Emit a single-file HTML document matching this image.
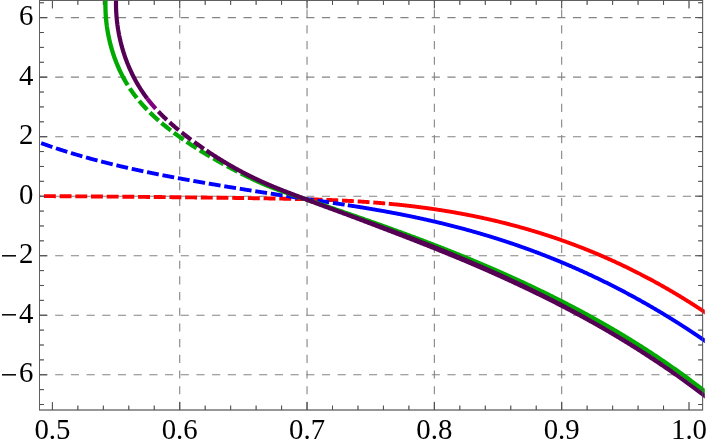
<!DOCTYPE html>
<html><head><meta charset="utf-8"><title>plot</title>
<style>
html,body{margin:0;padding:0;background:#fff;}
body{width:706px;height:447px;overflow:hidden;font-family:"Liberation Serif",serif;}
svg{display:block;}
</style></head><body>
<svg width="706" height="447" viewBox="0 0 706 447">
<rect width="706" height="447" fill="#ffffff"/>
<g stroke="#848484" stroke-width="1.1" stroke-dasharray="8.15 7.54" fill="none"><line x1="179.72" y1="410.0" x2="179.72" y2="0.5" /><line x1="307.04" y1="410.0" x2="307.04" y2="0.5" /><line x1="434.36" y1="410.0" x2="434.36" y2="0.5" /><line x1="561.68" y1="410.0" x2="561.68" y2="0.5" /><line x1="39.5" y1="374.76" x2="702.6" y2="374.76" /><line x1="39.5" y1="315.24" x2="702.6" y2="315.24" /><line x1="39.5" y1="255.72" x2="702.6" y2="255.72" /><line x1="39.5" y1="196.20" x2="702.6" y2="196.20" /><line x1="39.5" y1="136.68" x2="702.6" y2="136.68" /><line x1="39.5" y1="77.16" x2="702.6" y2="77.16" /><line x1="39.5" y1="17.64" x2="702.6" y2="17.64" /></g>
<rect x="39.5" y="0.5" width="663.1" height="409.5" fill="none" stroke="#606060" stroke-width="1"/>
<g stroke="#4e4e4e" stroke-width="1" fill="none"><line x1="52.40" y1="410.0" x2="52.40" y2="402.1"/><line x1="52.40" y1="0.5" x2="52.40" y2="8.4"/><line x1="77.86" y1="410.0" x2="77.86" y2="405.6"/><line x1="77.86" y1="0.5" x2="77.86" y2="4.9"/><line x1="103.33" y1="410.0" x2="103.33" y2="405.6"/><line x1="103.33" y1="0.5" x2="103.33" y2="4.9"/><line x1="128.79" y1="410.0" x2="128.79" y2="405.6"/><line x1="128.79" y1="0.5" x2="128.79" y2="4.9"/><line x1="154.26" y1="410.0" x2="154.26" y2="405.6"/><line x1="154.26" y1="0.5" x2="154.26" y2="4.9"/><line x1="179.72" y1="410.0" x2="179.72" y2="402.1"/><line x1="179.72" y1="0.5" x2="179.72" y2="8.4"/><line x1="205.18" y1="410.0" x2="205.18" y2="405.6"/><line x1="205.18" y1="0.5" x2="205.18" y2="4.9"/><line x1="230.65" y1="410.0" x2="230.65" y2="405.6"/><line x1="230.65" y1="0.5" x2="230.65" y2="4.9"/><line x1="256.11" y1="410.0" x2="256.11" y2="405.6"/><line x1="256.11" y1="0.5" x2="256.11" y2="4.9"/><line x1="281.58" y1="410.0" x2="281.58" y2="405.6"/><line x1="281.58" y1="0.5" x2="281.58" y2="4.9"/><line x1="307.04" y1="410.0" x2="307.04" y2="402.1"/><line x1="307.04" y1="0.5" x2="307.04" y2="8.4"/><line x1="332.50" y1="410.0" x2="332.50" y2="405.6"/><line x1="332.50" y1="0.5" x2="332.50" y2="4.9"/><line x1="357.97" y1="410.0" x2="357.97" y2="405.6"/><line x1="357.97" y1="0.5" x2="357.97" y2="4.9"/><line x1="383.43" y1="410.0" x2="383.43" y2="405.6"/><line x1="383.43" y1="0.5" x2="383.43" y2="4.9"/><line x1="408.90" y1="410.0" x2="408.90" y2="405.6"/><line x1="408.90" y1="0.5" x2="408.90" y2="4.9"/><line x1="434.36" y1="410.0" x2="434.36" y2="402.1"/><line x1="434.36" y1="0.5" x2="434.36" y2="8.4"/><line x1="459.82" y1="410.0" x2="459.82" y2="405.6"/><line x1="459.82" y1="0.5" x2="459.82" y2="4.9"/><line x1="485.29" y1="410.0" x2="485.29" y2="405.6"/><line x1="485.29" y1="0.5" x2="485.29" y2="4.9"/><line x1="510.75" y1="410.0" x2="510.75" y2="405.6"/><line x1="510.75" y1="0.5" x2="510.75" y2="4.9"/><line x1="536.22" y1="410.0" x2="536.22" y2="405.6"/><line x1="536.22" y1="0.5" x2="536.22" y2="4.9"/><line x1="561.68" y1="410.0" x2="561.68" y2="402.1"/><line x1="561.68" y1="0.5" x2="561.68" y2="8.4"/><line x1="587.14" y1="410.0" x2="587.14" y2="405.6"/><line x1="587.14" y1="0.5" x2="587.14" y2="4.9"/><line x1="612.61" y1="410.0" x2="612.61" y2="405.6"/><line x1="612.61" y1="0.5" x2="612.61" y2="4.9"/><line x1="638.07" y1="410.0" x2="638.07" y2="405.6"/><line x1="638.07" y1="0.5" x2="638.07" y2="4.9"/><line x1="663.54" y1="410.0" x2="663.54" y2="405.6"/><line x1="663.54" y1="0.5" x2="663.54" y2="4.9"/><line x1="689.00" y1="410.0" x2="689.00" y2="402.1"/><line x1="689.00" y1="0.5" x2="689.00" y2="8.4"/><line x1="39.5" y1="404.52" x2="43.9" y2="404.52"/><line x1="702.6" y1="404.52" x2="698.2" y2="404.52"/><line x1="39.5" y1="389.64" x2="43.9" y2="389.64"/><line x1="702.6" y1="389.64" x2="698.2" y2="389.64"/><line x1="39.5" y1="374.76" x2="47.0" y2="374.76"/><line x1="702.6" y1="374.76" x2="695.1" y2="374.76"/><line x1="39.5" y1="359.88" x2="43.9" y2="359.88"/><line x1="702.6" y1="359.88" x2="698.2" y2="359.88"/><line x1="39.5" y1="345.00" x2="43.9" y2="345.00"/><line x1="702.6" y1="345.00" x2="698.2" y2="345.00"/><line x1="39.5" y1="330.12" x2="43.9" y2="330.12"/><line x1="702.6" y1="330.12" x2="698.2" y2="330.12"/><line x1="39.5" y1="315.24" x2="47.0" y2="315.24"/><line x1="702.6" y1="315.24" x2="695.1" y2="315.24"/><line x1="39.5" y1="300.36" x2="43.9" y2="300.36"/><line x1="702.6" y1="300.36" x2="698.2" y2="300.36"/><line x1="39.5" y1="285.48" x2="43.9" y2="285.48"/><line x1="702.6" y1="285.48" x2="698.2" y2="285.48"/><line x1="39.5" y1="270.60" x2="43.9" y2="270.60"/><line x1="702.6" y1="270.60" x2="698.2" y2="270.60"/><line x1="39.5" y1="255.72" x2="47.0" y2="255.72"/><line x1="702.6" y1="255.72" x2="695.1" y2="255.72"/><line x1="39.5" y1="240.84" x2="43.9" y2="240.84"/><line x1="702.6" y1="240.84" x2="698.2" y2="240.84"/><line x1="39.5" y1="225.96" x2="43.9" y2="225.96"/><line x1="702.6" y1="225.96" x2="698.2" y2="225.96"/><line x1="39.5" y1="211.08" x2="43.9" y2="211.08"/><line x1="702.6" y1="211.08" x2="698.2" y2="211.08"/><line x1="39.5" y1="196.20" x2="47.0" y2="196.20"/><line x1="702.6" y1="196.20" x2="695.1" y2="196.20"/><line x1="39.5" y1="181.32" x2="43.9" y2="181.32"/><line x1="702.6" y1="181.32" x2="698.2" y2="181.32"/><line x1="39.5" y1="166.44" x2="43.9" y2="166.44"/><line x1="702.6" y1="166.44" x2="698.2" y2="166.44"/><line x1="39.5" y1="151.56" x2="43.9" y2="151.56"/><line x1="702.6" y1="151.56" x2="698.2" y2="151.56"/><line x1="39.5" y1="136.68" x2="47.0" y2="136.68"/><line x1="702.6" y1="136.68" x2="695.1" y2="136.68"/><line x1="39.5" y1="121.80" x2="43.9" y2="121.80"/><line x1="702.6" y1="121.80" x2="698.2" y2="121.80"/><line x1="39.5" y1="106.92" x2="43.9" y2="106.92"/><line x1="702.6" y1="106.92" x2="698.2" y2="106.92"/><line x1="39.5" y1="92.04" x2="43.9" y2="92.04"/><line x1="702.6" y1="92.04" x2="698.2" y2="92.04"/><line x1="39.5" y1="77.16" x2="47.0" y2="77.16"/><line x1="702.6" y1="77.16" x2="695.1" y2="77.16"/><line x1="39.5" y1="62.28" x2="43.9" y2="62.28"/><line x1="702.6" y1="62.28" x2="698.2" y2="62.28"/><line x1="39.5" y1="47.40" x2="43.9" y2="47.40"/><line x1="702.6" y1="47.40" x2="698.2" y2="47.40"/><line x1="39.5" y1="32.52" x2="43.9" y2="32.52"/><line x1="702.6" y1="32.52" x2="698.2" y2="32.52"/><line x1="39.5" y1="17.64" x2="47.0" y2="17.64"/><line x1="702.6" y1="17.64" x2="695.1" y2="17.64"/><line x1="39.5" y1="2.76" x2="43.9" y2="2.76"/><line x1="702.6" y1="2.76" x2="698.2" y2="2.76"/></g>
<defs><clipPath id="c"><rect x="39.5" y="-5" width="665.3" height="415.0"/></clipPath></defs>
<g clip-path="url(#c)" stroke-linecap="butt" stroke-linejoin="round">
<path d="M30.00,196.01 L30.49,196.01 L30.97,196.01 L31.46,196.02 L31.95,196.02 L32.44,196.02 L32.92,196.03 L33.41,196.03 L33.90,196.03 L34.39,196.04 L34.87,196.04 L35.36,196.04 L35.85,196.05 L36.34,196.05 L36.82,196.05 L37.31,196.06 L37.80,196.06 L38.29,196.06 L38.77,196.07 L39.26,196.07 L39.75,196.07 L40.24,196.08 L40.72,196.08 L41.21,196.08 L41.70,196.09 L42.19,196.09 L42.67,196.09 L43.16,196.10 L43.65,196.10 L44.14,196.10 L44.62,196.11 L45.11,196.11 L45.60,196.12 L46.09,196.12 L46.57,196.12 L47.06,196.13 L47.55,196.13 L48.04,196.13 L48.52,196.14 L49.01,196.14 L49.50,196.14 L49.99,196.15 L50.47,196.15 L50.96,196.15 L51.45,196.16 L51.94,196.16 L52.42,196.16 L52.91,196.17 L53.40,196.17 L53.89,196.17 L54.37,196.18 L54.86,196.18 L55.35,196.18 L55.84,196.19 L56.32,196.19 L56.81,196.20 L57.30,196.20 L57.79,196.20 L58.27,196.21 L58.76,196.21 L59.25,196.21 L59.74,196.22 L60.22,196.22 L60.71,196.22 L61.20,196.23 L61.69,196.23 L62.17,196.23 L62.66,196.24 L63.15,196.24 L63.64,196.24 L64.12,196.25 L64.61,196.25 L65.10,196.26 L65.59,196.26 L66.07,196.26 L66.56,196.27 L67.05,196.27 L67.54,196.27 L68.02,196.28 L68.51,196.28 L69.00,196.28 L69.49,196.29 L69.97,196.29 L70.46,196.29 L70.95,196.30 L71.44,196.30 L71.92,196.31 L72.41,196.31 L72.90,196.31 L73.39,196.32 L73.87,196.32 L74.36,196.32 L74.85,196.33 L75.34,196.33 L75.82,196.33 L76.31,196.34 L76.80,196.34 L77.29,196.35 L77.77,196.35 L78.26,196.35 L78.75,196.36 L79.24,196.36 L79.72,196.36 L80.21,196.37 L80.70,196.37 L81.19,196.38 L81.67,196.38 L82.16,196.38 L82.65,196.39 L83.14,196.39 L83.62,196.39 L84.11,196.40 L84.60,196.40 L85.09,196.41 L85.57,196.41 L86.06,196.41 L86.55,196.42 L87.04,196.42 L87.52,196.42 L88.01,196.43 L88.50,196.43 L88.99,196.44 L89.47,196.44 L89.96,196.44 L90.45,196.45 L90.94,196.45 L91.42,196.45 L91.91,196.46 L92.40,196.46 L92.89,196.47 L93.37,196.47 L93.86,196.47 L94.35,196.48 L94.84,196.48 L95.32,196.49 L95.81,196.49 L96.30,196.49 L96.79,196.50 L97.27,196.50 L97.76,196.50 L98.25,196.51 L98.74,196.51 L99.22,196.52 L99.71,196.52 L100.20,196.52 L100.69,196.53 L101.17,196.53 L101.66,196.54 L102.15,196.54 L102.64,196.54 L103.12,196.55 L103.61,196.55 L104.10,196.56 L104.59,196.56 L105.07,196.56 L105.56,196.57 L106.05,196.57 L106.54,196.58 L107.02,196.58 L107.51,196.58 L108.00,196.59 L108.49,196.59 L108.97,196.60 L109.46,196.60 L109.95,196.60 L110.44,196.61 L110.92,196.61 L111.41,196.62 L111.90,196.62 L112.39,196.62 L112.87,196.63 L113.36,196.63 L113.85,196.64 L114.34,196.64 L114.82,196.64 L115.31,196.65 L115.80,196.65 L116.29,196.66 L116.77,196.66 L117.26,196.67 L117.75,196.67 L118.24,196.67 L118.72,196.68 L119.21,196.68 L119.70,196.69 L120.19,196.69 L120.67,196.69 L121.16,196.70 L121.65,196.70 L122.14,196.71 L122.62,196.71 L123.11,196.72 L123.60,196.72 L124.09,196.72 L124.57,196.73 L125.06,196.73 L125.55,196.74 L126.04,196.74 L126.52,196.75 L127.01,196.75 L127.50,196.75 L127.99,196.76 L128.47,196.76 L128.96,196.77 L129.45,196.77 L129.94,196.78 L130.42,196.78 L130.91,196.78 L131.40,196.79 L131.89,196.79 L132.37,196.80 L132.86,196.80 L133.35,196.81 L133.84,196.81 L134.32,196.81 L134.81,196.82 L135.30,196.82 L135.79,196.83 L136.27,196.83 L136.76,196.84 L137.25,196.84 L137.74,196.85 L138.22,196.85 L138.71,196.85 L139.20,196.86 L139.69,196.86 L140.17,196.87 L140.66,196.87 L141.15,196.88 L141.64,196.88 L142.12,196.89 L142.61,196.89 L143.10,196.90 L143.59,196.90 L144.07,196.90 L144.56,196.91 L145.05,196.91 L145.54,196.92 L146.02,196.92 L146.51,196.93 L147.00,196.93 L147.49,196.94 L147.97,196.94 L148.46,196.95 L148.95,196.95 L149.44,196.96 L149.92,196.96 L150.41,196.96 L150.90,196.97 L151.39,196.97 L151.87,196.98 L152.36,196.98 L152.85,196.99 L153.34,196.99 L153.82,197.00 L154.31,197.00 L154.80,197.01 L155.29,197.01 L155.77,197.02 L156.26,197.02 L156.75,197.03 L157.24,197.03 L157.72,197.04 L158.21,197.04 L158.70,197.05 L159.19,197.05 L159.67,197.06 L160.16,197.06 L160.65,197.06 L161.14,197.07 L161.62,197.07 L162.11,197.08 L162.60,197.08 L163.09,197.09 L163.57,197.09 L164.06,197.10 L164.55,197.10 L165.04,197.11 L165.52,197.11 L166.01,197.12 L166.50,197.12 L166.98,197.13 L167.47,197.13 L167.96,197.14 L168.45,197.14 L168.93,197.15 L169.42,197.15 L169.91,197.16 L170.40,197.16 L170.88,197.17 L171.37,197.17 L171.86,197.18 L172.35,197.18 L172.83,197.19 L173.32,197.19 L173.81,197.20 L174.30,197.20 L174.78,197.21 L175.27,197.21 L175.76,197.22 L176.25,197.23 L176.73,197.23 L177.22,197.24 L177.71,197.24 L178.20,197.25 L178.68,197.25 L179.17,197.26 L179.66,197.26 L180.15,197.27 L180.63,197.27 L181.12,197.28 L181.61,197.28 L182.10,197.29 L182.58,197.29 L183.07,197.30 L183.56,197.30 L184.05,197.31 L184.53,197.31 L185.02,197.32 L185.51,197.33 L186.00,197.33 L186.48,197.34 L186.97,197.34 L187.46,197.35 L187.95,197.35 L188.43,197.36 L188.92,197.36 L189.41,197.37 L189.90,197.37 L190.38,197.38 L190.87,197.39 L191.36,197.39 L191.85,197.40 L192.33,197.40 L192.82,197.41 L193.31,197.41 L193.80,197.42 L194.28,197.42 L194.77,197.43 L195.26,197.44 L195.75,197.44 L196.23,197.45 L196.72,197.45 L197.21,197.46 L197.70,197.46 L198.18,197.47 L198.67,197.47 L199.16,197.48 L199.65,197.49 L200.13,197.49 L200.62,197.50 L201.11,197.50 L201.60,197.51 L202.08,197.51 L202.57,197.52 L203.06,197.53 L203.55,197.53 L204.03,197.54 L204.52,197.54 L205.01,197.55 L205.50,197.56 L205.98,197.56 L206.47,197.57 L206.96,197.57 L207.45,197.58 L207.93,197.58 L208.42,197.59 L208.91,197.60 L209.40,197.60 L209.88,197.61 L210.37,197.61 L210.86,197.62 L211.35,197.63 L211.83,197.63 L212.32,197.64 L212.81,197.64 L213.30,197.65 L213.78,197.66 L214.27,197.66 L214.76,197.67 L215.25,197.67 L215.73,197.68 L216.22,197.69 L216.71,197.69 L217.20,197.70 L217.68,197.71 L218.17,197.71 L218.66,197.72 L219.15,197.72 L219.63,197.73 L220.12,197.74 L220.61,197.74 L221.10,197.75 L221.58,197.75 L222.07,197.76 L222.56,197.77 L223.05,197.77 L223.53,197.78 L224.02,197.79 L224.51,197.79 L225.00,197.80 L225.48,197.80 L225.97,197.81 L226.46,197.82 L226.95,197.82 L227.43,197.83 L227.92,197.84 L228.41,197.84 L228.90,197.85 L229.38,197.86 L229.87,197.86 L230.36,197.87 L230.85,197.88 L231.33,197.88 L231.82,197.89 L232.31,197.90 L232.80,197.90 L233.28,197.91 L233.77,197.91 L234.26,197.92 L234.75,197.93 L235.23,197.93 L235.72,197.94 L236.21,197.95 L236.70,197.95 L237.18,197.96 L237.67,197.97 L238.16,197.97 L238.65,197.98 L239.13,197.99 L239.62,197.99 L240.11,198.00 L240.60,198.01 L241.08,198.01 L241.57,198.02 L242.06,198.03 L242.55,198.04 L243.03,198.04 L243.52,198.05 L244.01,198.06 L244.50,198.06 L244.98,198.07 L245.47,198.08 L245.96,198.08 L246.45,198.09 L246.93,198.10 L247.42,198.10 L247.91,198.11 L248.40,198.12 L248.88,198.13 L249.37,198.13 L249.86,198.14 L250.35,198.15 L250.83,198.15 L251.32,198.16 L251.81,198.17 L252.30,198.17 L252.78,198.18 L253.27,198.19 L253.76,198.20 L254.25,198.20 L254.73,198.21 L255.22,198.22 L255.71,198.22 L256.20,198.23 L256.68,198.24 L257.17,198.25 L257.66,198.25 L258.15,198.26 L258.63,198.27 L259.12,198.28 L259.61,198.28 L260.10,198.29 L260.58,198.30 L261.07,198.30 L261.56,198.31 L262.05,198.32 L262.53,198.33 L263.02,198.33 L263.51,198.34 L264.00,198.35 L264.48,198.36 L264.97,198.36 L265.46,198.37 L265.95,198.38 L266.43,198.39 L266.92,198.40 L267.41,198.40 L267.90,198.41 L268.38,198.42 L268.87,198.43 L269.36,198.43 L269.85,198.44 L270.33,198.45 L270.82,198.46 L271.31,198.47 L271.80,198.47 L272.28,198.48 L272.77,198.49 L273.26,198.50 L273.75,198.51 L274.23,198.52 L274.72,198.52 L275.21,198.53 L275.70,198.54 L276.18,198.55 L276.67,198.56 L277.16,198.57 L277.65,198.57 L278.13,198.58 L278.62,198.59 L279.11,198.60 L279.60,198.61 L280.08,198.62 L280.57,198.63 L281.06,198.64 L281.55,198.65 L282.03,198.65 L282.52,198.66 L283.01,198.67 L283.50,198.68 L283.98,198.69 L284.47,198.70 L284.96,198.71 L285.45,198.72 L285.93,198.73 L286.42,198.74 L286.91,198.75 L287.40,198.76 L287.88,198.77 L288.37,198.78 L288.86,198.79 L289.35,198.80 L289.83,198.81 L290.32,198.82 L290.81,198.83 L291.30,198.84 L291.78,198.85 L292.27,198.86 L292.76,198.87 L293.25,198.88 L293.73,198.89 L294.22,198.91 L294.71,198.92 L295.20,198.93 L295.68,198.94 L296.17,198.95 L296.66,198.96 L297.15,198.97 L297.63,198.99 L298.12,199.00 L298.61,199.01 L299.10,199.02 L299.58,199.03 L300.07,199.04 L300.56,199.06 L301.05,199.07 L301.53,199.08 L302.02,199.09 L302.51,199.11 L302.99,199.12 L303.48,199.13 L303.97,199.14 L304.46,199.16 L304.94,199.17 L305.43,199.18 L305.92,199.20 L306.41,199.21 L306.89,199.22 L307.38,199.24 L307.87,199.25 L308.36,199.26 L308.84,199.28 L309.33,199.29 L309.82,199.31 L310.31,199.32 L310.79,199.33 L311.28,199.35 L311.77,199.36 L312.26,199.38 L312.74,199.39 L313.23,199.41 L313.72,199.42 L314.21,199.44 L314.69,199.45 L315.18,199.47 L315.67,199.48 L316.16,199.50 L316.64,199.52 L317.13,199.53 L317.62,199.55 L318.11,199.56 L318.59,199.58 L319.08,199.60 L319.57,199.61 L320.06,199.63 L320.54,199.65 L321.03,199.66 L321.52,199.68 L322.01,199.70 L322.49,199.72 L322.98,199.73 L323.47,199.75 L323.96,199.77 L324.44,199.79 L324.93,199.81 L325.42,199.82 L325.91,199.84 L326.39,199.86 L326.88,199.88 L327.37,199.90 L327.86,199.92 L328.34,199.94 L328.83,199.96 L329.32,199.97 L329.81,199.99 L330.29,200.01 L330.78,200.03 L331.27,200.05 L331.76,200.07 L332.24,200.09 L332.73,200.12 L333.22,200.14 L333.71,200.16 L334.19,200.18 L334.68,200.20 L335.17,200.22 L335.66,200.24 L336.14,200.26 L336.63,200.28 L337.12,200.31 L337.61,200.33 L338.09,200.35 L338.58,200.37 L339.07,200.40 L339.56,200.42 L340.04,200.44 L340.53,200.47 L341.02,200.49 L341.51,200.51 L341.99,200.54 L342.48,200.56 L342.97,200.58 L343.46,200.61 L343.94,200.63 L344.43,200.66 L344.92,200.68 L345.41,200.71 L345.89,200.73 L346.38,200.76 L346.87,200.78 L347.36,200.81 L347.84,200.83 L348.33,200.86 L348.82,200.89 L349.31,200.91 L349.79,200.94 L350.28,200.97 L350.77,200.99 L351.26,201.02 L351.74,201.05 L352.23,201.07 L352.72,201.10 L353.21,201.13 L353.69,201.16 L354.18,201.19 L354.67,201.22 L355.16,201.24 L355.64,201.27 L356.13,201.30 L356.62,201.33 L357.11,201.36 L357.59,201.39 L358.08,201.42 L358.57,201.45 L359.06,201.48 L359.54,201.51 L360.03,201.54 L360.52,201.57 L361.01,201.60 L361.49,201.64 L361.98,201.67 L362.47,201.70 L362.96,201.73 L363.44,201.76 L363.93,201.80 L364.42,201.83 L364.91,201.86 L365.39,201.89 L365.88,201.93 L366.37,201.96 L366.86,202.00 L367.34,202.03 L367.83,202.06 L368.32,202.10 L368.81,202.13 L369.29,202.17 L369.78,202.20 L370.27,202.24 L370.76,202.27 L371.24,202.31 L371.73,202.35 L372.22,202.38 L372.71,202.42 L373.19,202.46 L373.68,202.49 L374.17,202.53 L374.66,202.57 L375.14,202.61 L375.63,202.64 L376.12,202.68 L376.61,202.72 L377.09,202.76 L377.58,202.80 L378.07,202.84 L378.56,202.88 L379.04,202.92 L379.53,202.96 L380.02,203.00 L380.51,203.04 L380.99,203.08 L381.48,203.12 L381.97,203.16 L382.46,203.20 L382.94,203.24 L383.43,203.28 L383.92,203.33 L384.41,203.37 L384.89,203.41 L385.38,203.45 L385.87,203.50 L386.36,203.54 L386.84,203.58 L387.33,203.63 L387.82,203.67" fill="none" stroke="#ff0000" stroke-width="3.9" stroke-dasharray="11.9 3.79" stroke-dashoffset="1.74"/>
<path d="M388.79,203.76 L389.28,203.81 L389.77,203.85 L390.26,203.90 L390.74,203.94 L391.23,203.99 L391.72,204.04 L392.21,204.08 L392.69,204.13 L393.18,204.18 L393.67,204.22 L394.16,204.27 L394.64,204.32 L395.13,204.37 L395.62,204.42 L396.11,204.46 L396.59,204.51 L397.08,204.56 L397.57,204.61 L398.06,204.66 L398.54,204.71 L399.03,204.76 L399.52,204.81 L400.01,204.87 L400.49,204.92 L400.98,204.97 L401.47,205.02 L401.96,205.07 L402.44,205.12 L402.93,205.18 L403.42,205.23 L403.91,205.28 L404.39,205.34 L404.88,205.39 L405.37,205.44 L405.86,205.50 L406.34,205.55 L406.83,205.61 L407.32,205.66 L407.81,205.72 L408.29,205.77 L408.78,205.83 L409.27,205.89 L409.76,205.94 L410.24,206.00 L410.73,206.06 L411.22,206.12 L411.71,206.17 L412.19,206.23 L412.68,206.29 L413.17,206.35 L413.66,206.41 L414.14,206.47 L414.63,206.53 L415.12,206.59 L415.61,206.65 L416.09,206.71 L416.58,206.77 L417.07,206.83 L417.56,206.89 L418.04,206.95 L418.53,207.01 L419.02,207.08 L419.51,207.14 L419.99,207.20 L420.48,207.26 L420.97,207.33 L421.46,207.39 L421.94,207.46 L422.43,207.52 L422.92,207.58 L423.41,207.65 L423.89,207.71 L424.38,207.78 L424.87,207.85 L425.36,207.91 L425.84,207.98 L426.33,208.04 L426.82,208.11 L427.31,208.18 L427.79,208.25 L428.28,208.31 L428.77,208.38 L429.26,208.45 L429.74,208.52 L430.23,208.59 L430.72,208.66 L431.21,208.73 L431.69,208.80 L432.18,208.87 L432.67,208.94 L433.16,209.01 L433.64,209.08 L434.13,209.15 L434.62,209.23 L435.11,209.30 L435.59,209.37 L436.08,209.44 L436.57,209.52 L437.06,209.59 L437.54,209.66 L438.03,209.74 L438.52,209.81 L439.01,209.89 L439.49,209.96 L439.98,210.04 L440.47,210.11 L440.95,210.19 L441.44,210.27 L441.93,210.34 L442.42,210.42 L442.90,210.50 L443.39,210.58 L443.88,210.65 L444.37,210.73 L444.85,210.81 L445.34,210.89 L445.83,210.97 L446.32,211.05 L446.80,211.13 L447.29,211.21 L447.78,211.29 L448.27,211.37 L448.75,211.45 L449.24,211.53 L449.73,211.62 L450.22,211.70 L450.70,211.78 L451.19,211.86 L451.68,211.95 L452.17,212.03 L452.65,212.12 L453.14,212.20 L453.63,212.28 L454.12,212.37 L454.60,212.45 L455.09,212.54 L455.58,212.63 L456.07,212.71 L456.55,212.80 L457.04,212.89 L457.53,212.97 L458.02,213.06 L458.50,213.15 L458.99,213.24 L459.48,213.33 L459.97,213.42 L460.45,213.50 L460.94,213.59 L461.43,213.68 L461.92,213.77 L462.40,213.87 L462.89,213.96 L463.38,214.05 L463.87,214.14 L464.35,214.23 L464.84,214.32 L465.33,214.42 L465.82,214.51 L466.30,214.60 L466.79,214.70 L467.28,214.79 L467.77,214.89 L468.25,214.98 L468.74,215.08 L469.23,215.17 L469.72,215.27 L470.20,215.36 L470.69,215.46 L471.18,215.56 L471.67,215.66 L472.15,215.75 L472.64,215.85 L473.13,215.95 L473.62,216.05 L474.10,216.15 L474.59,216.25 L475.08,216.35 L475.57,216.45 L476.05,216.55 L476.54,216.65 L477.03,216.75 L477.52,216.85 L478.00,216.95 L478.49,217.06 L478.98,217.16 L479.47,217.26 L479.95,217.36 L480.44,217.47 L480.93,217.57 L481.42,217.68 L481.90,217.78 L482.39,217.89 L482.88,217.99 L483.37,218.10 L483.85,218.21 L484.34,218.31 L484.83,218.42 L485.32,218.53 L485.80,218.63 L486.29,218.74 L486.78,218.85 L487.27,218.96 L487.75,219.07 L488.24,219.18 L488.73,219.29 L489.22,219.40 L489.70,219.51 L490.19,219.62 L490.68,219.73 L491.17,219.84 L491.65,219.96 L492.14,220.07 L492.63,220.18 L493.12,220.30 L493.60,220.41 L494.09,220.52 L494.58,220.64 L495.07,220.75 L495.55,220.87 L496.04,220.98 L496.53,221.10 L497.02,221.22 L497.50,221.33 L497.99,221.45 L498.48,221.57 L498.97,221.69 L499.45,221.80 L499.94,221.92 L500.43,222.04 L500.92,222.16 L501.40,222.28 L501.89,222.40 L502.38,222.52 L502.87,222.64 L503.35,222.77 L503.84,222.89 L504.33,223.01 L504.82,223.13 L505.30,223.25 L505.79,223.38 L506.28,223.50 L506.77,223.63 L507.25,223.75 L507.74,223.88 L508.23,224.00 L508.72,224.13 L509.20,224.25 L509.69,224.38 L510.18,224.51 L510.67,224.63 L511.15,224.76 L511.64,224.89 L512.13,225.02 L512.62,225.15 L513.10,225.28 L513.59,225.41 L514.08,225.54 L514.57,225.67 L515.05,225.80 L515.54,225.93 L516.03,226.06 L516.52,226.19 L517.00,226.32 L517.49,226.46 L517.98,226.59 L518.47,226.72 L518.95,226.86 L519.44,226.99 L519.93,227.13 L520.42,227.26 L520.90,227.40 L521.39,227.53 L521.88,227.67 L522.37,227.81 L522.85,227.94 L523.34,228.08 L523.83,228.22 L524.32,228.36 L524.80,228.50 L525.29,228.64 L525.78,228.78 L526.27,228.92 L526.75,229.06 L527.24,229.20 L527.73,229.34 L528.22,229.48 L528.70,229.62 L529.19,229.77 L529.68,229.91 L530.17,230.05 L530.65,230.20 L531.14,230.34 L531.63,230.49 L532.12,230.63 L532.60,230.78 L533.09,230.92 L533.58,231.07 L534.07,231.22 L534.55,231.36 L535.04,231.51 L535.53,231.66 L536.02,231.81 L536.50,231.96 L536.99,232.11 L537.48,232.26 L537.97,232.41 L538.45,232.56 L538.94,232.71 L539.43,232.86 L539.92,233.01 L540.40,233.16 L540.89,233.32 L541.38,233.47 L541.87,233.62 L542.35,233.78 L542.84,233.93 L543.33,234.09 L543.82,234.24 L544.30,234.40 L544.79,234.55 L545.28,234.71 L545.77,234.87 L546.25,235.02 L546.74,235.18 L547.23,235.34 L547.72,235.50 L548.20,235.66 L548.69,235.82 L549.18,235.98 L549.67,236.14 L550.15,236.30 L550.64,236.46 L551.13,236.62 L551.62,236.78 L552.10,236.95 L552.59,237.11 L553.08,237.27 L553.57,237.44 L554.05,237.60 L554.54,237.77 L555.03,237.93 L555.52,238.10 L556.00,238.26 L556.49,238.43 L556.98,238.60 L557.47,238.77 L557.95,238.93 L558.44,239.10 L558.93,239.27 L559.42,239.44 L559.90,239.61 L560.39,239.78 L560.88,239.95 L561.37,240.12 L561.85,240.29 L562.34,240.47 L562.83,240.64 L563.32,240.81 L563.80,240.98 L564.29,241.16 L564.78,241.33 L565.27,241.51 L565.75,241.68 L566.24,241.86 L566.73,242.03 L567.22,242.21 L567.70,242.39 L568.19,242.57 L568.68,242.74 L569.17,242.92 L569.65,243.10 L570.14,243.28 L570.63,243.46 L571.12,243.64 L571.60,243.82 L572.09,244.00 L572.58,244.18 L573.07,244.37 L573.55,244.55 L574.04,244.73 L574.53,244.91 L575.02,245.10 L575.50,245.28 L575.99,245.47 L576.48,245.65 L576.96,245.84 L577.45,246.02 L577.94,246.21 L578.43,246.40 L578.91,246.59 L579.40,246.77 L579.89,246.96 L580.38,247.15 L580.86,247.34 L581.35,247.53 L581.84,247.72 L582.33,247.91 L582.81,248.10 L583.30,248.29 L583.79,248.49 L584.28,248.68 L584.76,248.87 L585.25,249.07 L585.74,249.26 L586.23,249.46 L586.71,249.65 L587.20,249.85 L587.69,250.04 L588.18,250.24 L588.66,250.44 L589.15,250.63 L589.64,250.83 L590.13,251.03 L590.61,251.23 L591.10,251.43 L591.59,251.63 L592.08,251.83 L592.56,252.03 L593.05,252.23 L593.54,252.43 L594.03,252.64 L594.51,252.84 L595.00,253.04 L595.49,253.24 L595.98,253.45 L596.46,253.65 L596.95,253.86 L597.44,254.06 L597.93,254.27 L598.41,254.48 L598.90,254.68 L599.39,254.89 L599.88,255.10 L600.36,255.31 L600.85,255.52 L601.34,255.73 L601.83,255.94 L602.31,256.15 L602.80,256.36 L603.29,256.57 L603.78,256.78 L604.26,257.00 L604.75,257.21 L605.24,257.42 L605.73,257.64 L606.21,257.85 L606.70,258.07 L607.19,258.28 L607.68,258.50 L608.16,258.71 L608.65,258.93 L609.14,259.15 L609.63,259.37 L610.11,259.59 L610.60,259.80 L611.09,260.02 L611.58,260.24 L612.06,260.46 L612.55,260.69 L613.04,260.91 L613.53,261.13 L614.01,261.35 L614.50,261.57 L614.99,261.80 L615.48,262.02 L615.96,262.25 L616.45,262.47 L616.94,262.70 L617.43,262.92 L617.91,263.15 L618.40,263.38 L618.89,263.61 L619.38,263.83 L619.86,264.06 L620.35,264.29 L620.84,264.52 L621.33,264.75 L621.81,264.98 L622.30,265.21 L622.79,265.44 L623.28,265.68 L623.76,265.91 L624.25,266.14 L624.74,266.38 L625.23,266.61 L625.71,266.85 L626.20,267.08 L626.69,267.32 L627.18,267.55 L627.66,267.79 L628.15,268.03 L628.64,268.27 L629.13,268.50 L629.61,268.74 L630.10,268.98 L630.59,269.22 L631.08,269.46 L631.56,269.70 L632.05,269.95 L632.54,270.19 L633.03,270.43 L633.51,270.67 L634.00,270.92 L634.49,271.16 L634.98,271.41 L635.46,271.65 L635.95,271.90 L636.44,272.14 L636.93,272.39 L637.41,272.64 L637.90,272.89 L638.39,273.13 L638.88,273.38 L639.36,273.63 L639.85,273.88 L640.34,274.13 L640.83,274.38 L641.31,274.64 L641.80,274.89 L642.29,275.14 L642.78,275.39 L643.26,275.65 L643.75,275.90 L644.24,276.16 L644.73,276.41 L645.21,276.67 L645.70,276.92 L646.19,277.18 L646.68,277.44 L647.16,277.70 L647.65,277.95 L648.14,278.21 L648.63,278.47 L649.11,278.73 L649.60,278.99 L650.09,279.26 L650.58,279.52 L651.06,279.78 L651.55,280.04 L652.04,280.31 L652.53,280.57 L653.01,280.83 L653.50,281.10 L653.99,281.37 L654.48,281.63 L654.96,281.90 L655.45,282.17 L655.94,282.43 L656.43,282.70 L656.91,282.97 L657.40,283.24 L657.89,283.51 L658.38,283.78 L658.86,284.05 L659.35,284.32 L659.84,284.60 L660.33,284.87 L660.81,285.14 L661.30,285.42 L661.79,285.69 L662.28,285.97 L662.76,286.24 L663.25,286.52 L663.74,286.79 L664.23,287.07 L664.71,287.35 L665.20,287.63 L665.69,287.91 L666.18,288.19 L666.66,288.47 L667.15,288.75 L667.64,289.03 L668.13,289.31 L668.61,289.59 L669.10,289.87 L669.59,290.16 L670.08,290.44 L670.56,290.73 L671.05,291.01 L671.54,291.30 L672.03,291.58 L672.51,291.87 L673.00,292.16 L673.49,292.44 L673.98,292.73 L674.46,293.02 L674.95,293.31 L675.44,293.60 L675.93,293.89 L676.41,294.18 L676.90,294.48 L677.39,294.77 L677.88,295.06 L678.36,295.35 L678.85,295.65 L679.34,295.94 L679.83,296.24 L680.31,296.53 L680.80,296.83 L681.29,297.13 L681.78,297.43 L682.26,297.72 L682.75,298.02 L683.24,298.32 L683.73,298.62 L684.21,298.92 L684.70,299.22 L685.19,299.53 L685.68,299.83 L686.16,300.13 L686.65,300.43 L687.14,300.74 L687.63,301.04 L688.11,301.35 L688.60,301.65 L689.09,301.96 L689.58,302.27 L690.06,302.57 L690.55,302.88 L691.04,303.19 L691.53,303.50 L692.01,303.81 L692.50,304.12 L692.99,304.43 L693.48,304.74 L693.96,305.06 L694.45,305.37 L694.94,305.68 L695.43,306.00 L695.91,306.31 L696.40,306.63 L696.89,306.94 L697.38,307.26 L697.86,307.57 L698.35,307.89 L698.84,308.21 L699.33,308.53 L699.81,308.85 L700.30,309.17 L700.79,309.49 L701.28,309.81 L701.76,310.13 L702.25,310.45 L702.74,310.78 L703.23,311.10 L703.71,311.42 L704.20,311.75 L704.69,312.07 L705.18,312.40 L705.66,312.73 L706.15,313.05 L706.64,313.38 L707.13,313.71 L707.61,314.04 L708.10,314.37 L708.59,314.70 L709.08,315.03 L709.56,315.36 L710.05,315.69 L710.54,316.02 L711.03,316.36 L711.51,316.69 L712.00,317.02" fill="none" stroke="#ff0000" stroke-width="3.9"/>
<path d="M30.00,138.97 L30.49,139.15 L30.97,139.34 L31.46,139.53 L31.95,139.71 L32.44,139.90 L32.92,140.08 L33.41,140.26 L33.90,140.45 L34.39,140.63 L34.87,140.81 L35.36,140.99 L35.85,141.18 L36.34,141.36 L36.82,141.54 L37.31,141.72 L37.80,141.90 L38.29,142.07 L38.77,142.25 L39.26,142.43 L39.75,142.61 L40.24,142.79 L40.72,142.96 L41.21,143.14 L41.70,143.31 L42.19,143.49 L42.67,143.66 L43.16,143.84 L43.65,144.01 L44.14,144.18 L44.62,144.35 L45.11,144.53 L45.60,144.70 L46.09,144.87 L46.57,145.04 L47.06,145.21 L47.55,145.38 L48.04,145.55 L48.52,145.72 L49.01,145.89 L49.50,146.05 L49.99,146.22 L50.47,146.39 L50.96,146.55 L51.45,146.72 L51.94,146.89 L52.42,147.05 L52.91,147.22 L53.40,147.38 L53.89,147.54 L54.37,147.71 L54.86,147.87 L55.35,148.03 L55.84,148.19 L56.32,148.36 L56.81,148.52 L57.30,148.68 L57.79,148.84 L58.27,149.00 L58.76,149.16 L59.25,149.32 L59.74,149.47 L60.22,149.63 L60.71,149.79 L61.20,149.95 L61.69,150.10 L62.17,150.26 L62.66,150.42 L63.15,150.57 L63.64,150.73 L64.12,150.88 L64.61,151.03 L65.10,151.19 L65.59,151.34 L66.07,151.49 L66.56,151.65 L67.05,151.80 L67.54,151.95 L68.02,152.10 L68.51,152.25 L69.00,152.40 L69.49,152.55 L69.97,152.70 L70.46,152.85 L70.95,153.00 L71.44,153.15 L71.92,153.30 L72.41,153.44 L72.90,153.59 L73.39,153.74 L73.87,153.88 L74.36,154.03 L74.85,154.18 L75.34,154.32 L75.82,154.47 L76.31,154.61 L76.80,154.75 L77.29,154.90 L77.77,155.04 L78.26,155.18 L78.75,155.33 L79.24,155.47 L79.72,155.61 L80.21,155.75 L80.70,155.89 L81.19,156.03 L81.67,156.17 L82.16,156.31 L82.65,156.45 L83.14,156.59 L83.62,156.73 L84.11,156.87 L84.60,157.01 L85.09,157.14 L85.57,157.28 L86.06,157.42 L86.55,157.55 L87.04,157.69 L87.52,157.83 L88.01,157.96 L88.50,158.10 L88.99,158.23 L89.47,158.37 L89.96,158.50 L90.45,158.63 L90.94,158.77 L91.42,158.90 L91.91,159.03 L92.40,159.16 L92.89,159.30 L93.37,159.43 L93.86,159.56 L94.35,159.69 L94.84,159.82 L95.32,159.95 L95.81,160.08 L96.30,160.21 L96.79,160.34 L97.27,160.47 L97.76,160.60 L98.25,160.72 L98.74,160.85 L99.22,160.98 L99.71,161.11 L100.20,161.23 L100.69,161.36 L101.17,161.48 L101.66,161.61 L102.15,161.74 L102.64,161.86 L103.12,161.99 L103.61,162.11 L104.10,162.23 L104.59,162.36 L105.07,162.48 L105.56,162.61 L106.05,162.73 L106.54,162.85 L107.02,162.97 L107.51,163.09 L108.00,163.22 L108.49,163.34 L108.97,163.46 L109.46,163.58 L109.95,163.70 L110.44,163.82 L110.92,163.94 L111.41,164.06 L111.90,164.18 L112.39,164.30 L112.87,164.42 L113.36,164.53 L113.85,164.65 L114.34,164.77 L114.82,164.89 L115.31,165.00 L115.80,165.12 L116.29,165.24 L116.77,165.35 L117.26,165.47 L117.75,165.59 L118.24,165.70 L118.72,165.82 L119.21,165.93 L119.70,166.05 L120.19,166.16 L120.67,166.28 L121.16,166.39 L121.65,166.50 L122.14,166.62 L122.62,166.73 L123.11,166.84 L123.60,166.95 L124.09,167.07 L124.57,167.18 L125.06,167.29 L125.55,167.40 L126.04,167.51 L126.52,167.62 L127.01,167.73 L127.50,167.84 L127.99,167.95 L128.47,168.06 L128.96,168.17 L129.45,168.28 L129.94,168.39 L130.42,168.50 L130.91,168.61 L131.40,168.72 L131.89,168.83 L132.37,168.93 L132.86,169.04 L133.35,169.15 L133.84,169.25 L134.32,169.36 L134.81,169.47 L135.30,169.57 L135.79,169.68 L136.27,169.79 L136.76,169.89 L137.25,170.00 L137.74,170.10 L138.22,170.21 L138.71,170.31 L139.20,170.42 L139.69,170.52 L140.17,170.63 L140.66,170.73 L141.15,170.83 L141.64,170.94 L142.12,171.04 L142.61,171.14 L143.10,171.25 L143.59,171.35 L144.07,171.45 L144.56,171.55 L145.05,171.65 L145.54,171.76 L146.02,171.86 L146.51,171.96 L147.00,172.06 L147.49,172.16 L147.97,172.26 L148.46,172.36 L148.95,172.46 L149.44,172.56 L149.92,172.66 L150.41,172.76 L150.90,172.86 L151.39,172.96 L151.87,173.06 L152.36,173.16 L152.85,173.26 L153.34,173.36 L153.82,173.45 L154.31,173.55 L154.80,173.65 L155.29,173.75 L155.77,173.84 L156.26,173.94 L156.75,174.04 L157.24,174.14 L157.72,174.23 L158.21,174.33 L158.70,174.43 L159.19,174.52 L159.67,174.62 L160.16,174.71 L160.65,174.81 L161.14,174.91 L161.62,175.00 L162.11,175.10 L162.60,175.19 L163.09,175.29 L163.57,175.38 L164.06,175.48 L164.55,175.57 L165.04,175.66 L165.52,175.76 L166.01,175.85 L166.50,175.95 L166.98,176.04 L167.47,176.13 L167.96,176.23 L168.45,176.32 L168.93,176.41 L169.42,176.51 L169.91,176.60 L170.40,176.69 L170.88,176.78 L171.37,176.88 L171.86,176.97 L172.35,177.06 L172.83,177.15 L173.32,177.24 L173.81,177.34 L174.30,177.43 L174.78,177.52 L175.27,177.61 L175.76,177.70 L176.25,177.79 L176.73,177.88 L177.22,177.97 L177.71,178.06 L178.20,178.15 L178.68,178.24 L179.17,178.33 L179.66,178.42 L180.15,178.51 L180.63,178.60 L181.12,178.69 L181.61,178.78 L182.10,178.87 L182.58,178.96 L183.07,179.05 L183.56,179.14 L184.05,179.23 L184.53,179.32 L185.02,179.41 L185.51,179.50 L186.00,179.59 L186.48,179.67 L186.97,179.76 L187.46,179.85 L187.95,179.94 L188.43,180.03 L188.92,180.11 L189.41,180.20 L189.90,180.29 L190.38,180.38 L190.87,180.46 L191.36,180.55 L191.85,180.64 L192.33,180.73 L192.82,180.81 L193.31,180.90 L193.80,180.99 L194.28,181.07 L194.77,181.16 L195.26,181.25 L195.75,181.33 L196.23,181.42 L196.72,181.50 L197.21,181.59 L197.70,181.68 L198.18,181.76 L198.67,181.85 L199.16,181.93 L199.65,182.02 L200.13,182.10 L200.62,182.19 L201.11,182.27 L201.60,182.36 L202.08,182.44 L202.57,182.53 L203.06,182.61 L203.55,182.70 L204.03,182.78 L204.52,182.87 L205.01,182.95 L205.50,183.04 L205.98,183.12 L206.47,183.20 L206.96,183.29 L207.45,183.37 L207.93,183.46 L208.42,183.54 L208.91,183.62 L209.40,183.71 L209.88,183.79 L210.37,183.87 L210.86,183.96 L211.35,184.04 L211.83,184.12 L212.32,184.21 L212.81,184.29 L213.30,184.37 L213.78,184.45 L214.27,184.54 L214.76,184.62 L215.25,184.70 L215.73,184.78 L216.22,184.87 L216.71,184.95 L217.20,185.03 L217.68,185.11 L218.17,185.19 L218.66,185.27 L219.15,185.36 L219.63,185.44 L220.12,185.52 L220.61,185.60 L221.10,185.68 L221.58,185.76 L222.07,185.84 L222.56,185.93 L223.05,186.01 L223.53,186.09 L224.02,186.17 L224.51,186.25 L225.00,186.33 L225.48,186.41 L225.97,186.49 L226.46,186.57 L226.95,186.65 L227.43,186.73 L227.92,186.81 L228.41,186.89 L228.90,186.97 L229.38,187.05 L229.87,187.13 L230.36,187.21 L230.85,187.29 L231.33,187.37 L231.82,187.45 L232.31,187.53 L232.80,187.61 L233.28,187.69 L233.77,187.77 L234.26,187.85 L234.75,187.93 L235.23,188.00 L235.72,188.08 L236.21,188.16 L236.70,188.24 L237.18,188.32 L237.67,188.40 L238.16,188.48 L238.65,188.55 L239.13,188.63 L239.62,188.71 L240.11,188.79 L240.60,188.87 L241.08,188.95 L241.57,189.02 L242.06,189.10 L242.55,189.18 L243.03,189.26 L243.52,189.34 L244.01,189.41 L244.50,189.49 L244.98,189.57 L245.47,189.65 L245.96,189.72 L246.45,189.80 L246.93,189.88 L247.42,189.96 L247.91,190.03 L248.40,190.11 L248.88,190.19 L249.37,190.26 L249.86,190.34 L250.35,190.42 L250.83,190.49 L251.32,190.57 L251.81,190.65 L252.30,190.72 L252.78,190.80 L253.27,190.88 L253.76,190.95 L254.25,191.03 L254.73,191.11 L255.22,191.18 L255.71,191.26 L256.20,191.34 L256.68,191.41 L257.17,191.49 L257.66,191.56 L258.15,191.64 L258.63,191.72 L259.12,191.79 L259.61,191.87 L260.10,191.94 L260.58,192.02 L261.07,192.09 L261.56,192.17 L262.05,192.25 L262.53,192.32 L263.02,192.40 L263.51,192.47 L264.00,192.55 L264.48,192.62 L264.97,192.70 L265.46,192.77 L265.95,192.85 L266.43,192.92 L266.92,193.00 L267.41,193.07 L267.90,193.15 L268.38,193.22 L268.87,193.30 L269.36,193.37 L269.85,193.45 L270.33,193.52 L270.82,193.60 L271.31,193.67 L271.80,193.75 L272.28,193.82 L272.77,193.89 L273.26,193.97 L273.75,194.04 L274.23,194.12 L274.72,194.19 L275.21,194.27 L275.70,194.34 L276.18,194.42 L276.67,194.49 L277.16,194.56 L277.65,194.64 L278.13,194.71 L278.62,194.79 L279.11,194.86 L279.60,194.93 L280.08,195.01 L280.57,195.08 L281.06,195.16 L281.55,195.23 L282.03,195.30 L282.52,195.38 L283.01,195.45 L283.50,195.52 L283.98,195.60 L284.47,195.67 L284.96,195.74 L285.45,195.82 L285.93,195.89 L286.42,195.97 L286.91,196.04 L287.40,196.11 L287.88,196.19 L288.37,196.26 L288.86,196.33 L289.35,196.41 L289.83,196.48 L290.32,196.55 L290.81,196.63 L291.30,196.70 L291.78,196.77 L292.27,196.84 L292.76,196.92 L293.25,196.99 L293.73,197.06 L294.22,197.14 L294.71,197.21 L295.20,197.28 L295.68,197.36 L296.17,197.43 L296.66,197.50 L297.15,197.57 L297.63,197.65 L298.12,197.72 L298.61,197.79 L299.10,197.87 L299.58,197.94 L300.07,198.01 L300.56,198.08 L301.05,198.16 L301.53,198.23 L302.02,198.30 L302.51,198.38 L302.99,198.45 L303.48,198.52 L303.97,198.59 L304.46,198.67 L304.94,198.74 L305.43,198.81 L305.92,198.88 L306.41,198.96 L306.89,199.03 L307.38,199.10 L307.87,199.17 L308.36,199.25 L308.84,199.32 L309.33,199.39 L309.82,199.46 L310.31,199.54 L310.79,199.61 L311.28,199.68 L311.77,199.75 L312.26,199.83 L312.74,199.90 L313.23,199.97 L313.72,200.04 L314.21,200.12 L314.69,200.19 L315.18,200.26 L315.67,200.33 L316.16,200.41 L316.64,200.48 L317.13,200.55 L317.62,200.62 L318.11,200.70 L318.59,200.77 L319.08,200.84 L319.57,200.91 L320.06,200.99 L320.54,201.06 L321.03,201.13 L321.52,201.20 L322.01,201.28 L322.49,201.35 L322.98,201.42 L323.47,201.50 L323.96,201.57 L324.44,201.64 L324.93,201.71 L325.42,201.79 L325.91,201.86 L326.39,201.93 L326.88,202.01 L327.37,202.08 L327.86,202.15 L328.34,202.23 L328.83,202.30 L329.32,202.37 L329.81,202.45 L330.29,202.52 L330.78,202.59 L331.27,202.67 L331.76,202.74 L332.24,202.81 L332.73,202.89 L333.22,202.96 L333.71,203.03 L334.19,203.11 L334.68,203.18 L335.17,203.25 L335.66,203.33 L336.14,203.40 L336.63,203.48 L337.12,203.55 L337.61,203.63 L338.09,203.70 L338.58,203.77 L339.07,203.85 L339.56,203.92 L340.04,204.00 L340.53,204.07 L341.02,204.15 L341.51,204.22 L341.99,204.30 L342.48,204.37 L342.97,204.45 L343.46,204.52 L343.94,204.60 L344.43,204.67 L344.92,204.75" fill="none" stroke="#0000ff" stroke-width="3.9" stroke-dasharray="11.9 3.8" stroke-dashoffset="3.8"/>
<path d="M347.84,205.20 L348.33,205.28 L348.82,205.35 L349.31,205.43 L349.79,205.51 L350.28,205.58 L350.77,205.66 L351.26,205.74 L351.74,205.81 L352.23,205.89 L352.72,205.97 L353.21,206.04 L353.69,206.12 L354.18,206.20 L354.67,206.27 L355.16,206.35 L355.64,206.43 L356.13,206.51 L356.62,206.58 L357.11,206.66 L357.59,206.74 L358.08,206.82 L358.57,206.90 L359.06,206.98 L359.54,207.05 L360.03,207.13 L360.52,207.21 L361.01,207.29 L361.49,207.37 L361.98,207.45 L362.47,207.53 L362.96,207.61 L363.44,207.69 L363.93,207.77 L364.42,207.85 L364.91,207.93 L365.39,208.01 L365.88,208.09 L366.37,208.17 L366.86,208.25 L367.34,208.33 L367.83,208.41 L368.32,208.49 L368.81,208.58 L369.29,208.66 L369.78,208.74 L370.27,208.82 L370.76,208.90 L371.24,208.98 L371.73,209.07 L372.22,209.15 L372.71,209.23 L373.19,209.32 L373.68,209.40 L374.17,209.48 L374.66,209.57 L375.14,209.65 L375.63,209.73 L376.12,209.82 L376.61,209.90 L377.09,209.99 L377.58,210.07 L378.07,210.16 L378.56,210.24 L379.04,210.33 L379.53,210.41 L380.02,210.50 L380.51,210.58 L380.99,210.67 L381.48,210.75 L381.97,210.84 L382.46,210.93 L382.94,211.01 L383.43,211.10 L383.92,211.19 L384.41,211.28 L384.89,211.36 L385.38,211.45 L385.87,211.54 L386.36,211.63 L386.84,211.72 L387.33,211.81 L387.82,211.90 L388.31,211.98 L388.79,212.07 L389.28,212.16 L389.77,212.25 L390.26,212.34 L390.74,212.43 L391.23,212.53 L391.72,212.62 L392.21,212.71 L392.69,212.80 L393.18,212.89 L393.67,212.98 L394.16,213.07 L394.64,213.17 L395.13,213.26 L395.62,213.35 L396.11,213.45 L396.59,213.54 L397.08,213.63 L397.57,213.73 L398.06,213.82 L398.54,213.91 L399.03,214.01 L399.52,214.10 L400.01,214.20 L400.49,214.29 L400.98,214.39 L401.47,214.49 L401.96,214.58 L402.44,214.68 L402.93,214.77 L403.42,214.87 L403.91,214.97 L404.39,215.07 L404.88,215.16 L405.37,215.26 L405.86,215.36 L406.34,215.46 L406.83,215.56 L407.32,215.65 L407.81,215.75 L408.29,215.85 L408.78,215.95 L409.27,216.05 L409.76,216.15 L410.24,216.25 L410.73,216.35 L411.22,216.45 L411.71,216.56 L412.19,216.66 L412.68,216.76 L413.17,216.86 L413.66,216.96 L414.14,217.06 L414.63,217.17 L415.12,217.27 L415.61,217.37 L416.09,217.48 L416.58,217.58 L417.07,217.68 L417.56,217.79 L418.04,217.89 L418.53,218.00 L419.02,218.10 L419.51,218.21 L419.99,218.31 L420.48,218.42 L420.97,218.53 L421.46,218.63 L421.94,218.74 L422.43,218.85 L422.92,218.95 L423.41,219.06 L423.89,219.17 L424.38,219.28 L424.87,219.38 L425.36,219.49 L425.84,219.60 L426.33,219.71 L426.82,219.82 L427.31,219.93 L427.79,220.04 L428.28,220.15 L428.77,220.26 L429.26,220.37 L429.74,220.48 L430.23,220.59 L430.72,220.70 L431.21,220.82 L431.69,220.93 L432.18,221.04 L432.67,221.15 L433.16,221.27 L433.64,221.38 L434.13,221.49 L434.62,221.61 L435.11,221.72 L435.59,221.84 L436.08,221.95 L436.57,222.07 L437.06,222.18 L437.54,222.30 L438.03,222.41 L438.52,222.53 L439.01,222.64 L439.49,222.76 L439.98,222.88 L440.47,222.99 L440.95,223.11 L441.44,223.23 L441.93,223.35 L442.42,223.47 L442.90,223.58 L443.39,223.70 L443.88,223.82 L444.37,223.94 L444.85,224.06 L445.34,224.18 L445.83,224.30 L446.32,224.42 L446.80,224.54 L447.29,224.67 L447.78,224.79 L448.27,224.91 L448.75,225.03 L449.24,225.15 L449.73,225.28 L450.22,225.40 L450.70,225.52 L451.19,225.65 L451.68,225.77 L452.17,225.89 L452.65,226.02 L453.14,226.14 L453.63,226.27 L454.12,226.39 L454.60,226.52 L455.09,226.65 L455.58,226.77 L456.07,226.90 L456.55,227.03 L457.04,227.15 L457.53,227.28 L458.02,227.41 L458.50,227.54 L458.99,227.67 L459.48,227.79 L459.97,227.92 L460.45,228.05 L460.94,228.18 L461.43,228.31 L461.92,228.44 L462.40,228.57 L462.89,228.70 L463.38,228.84 L463.87,228.97 L464.35,229.10 L464.84,229.23 L465.33,229.36 L465.82,229.50 L466.30,229.63 L466.79,229.76 L467.28,229.90 L467.77,230.03 L468.25,230.16 L468.74,230.30 L469.23,230.43 L469.72,230.57 L470.20,230.71 L470.69,230.84 L471.18,230.98 L471.67,231.11 L472.15,231.25 L472.64,231.39 L473.13,231.53 L473.62,231.66 L474.10,231.80 L474.59,231.94 L475.08,232.08 L475.57,232.22 L476.05,232.36 L476.54,232.50 L477.03,232.64 L477.52,232.78 L478.00,232.92 L478.49,233.06 L478.98,233.20 L479.47,233.34 L479.95,233.49 L480.44,233.63 L480.93,233.77 L481.42,233.91 L481.90,234.06 L482.39,234.20 L482.88,234.34 L483.37,234.49 L483.85,234.63 L484.34,234.78 L484.83,234.92 L485.32,235.07 L485.80,235.22 L486.29,235.36 L486.78,235.51 L487.27,235.66 L487.75,235.80 L488.24,235.95 L488.73,236.10 L489.22,236.25 L489.70,236.40 L490.19,236.55 L490.68,236.70 L491.17,236.84 L491.65,236.99 L492.14,237.15 L492.63,237.30 L493.12,237.45 L493.60,237.60 L494.09,237.75 L494.58,237.90 L495.07,238.05 L495.55,238.21 L496.04,238.36 L496.53,238.51 L497.02,238.67 L497.50,238.82 L497.99,238.98 L498.48,239.13 L498.97,239.29 L499.45,239.44 L499.94,239.60 L500.43,239.75 L500.92,239.91 L501.40,240.07 L501.89,240.23 L502.38,240.38 L502.87,240.54 L503.35,240.70 L503.84,240.86 L504.33,241.02 L504.82,241.18 L505.30,241.34 L505.79,241.50 L506.28,241.66 L506.77,241.82 L507.25,241.98 L507.74,242.14 L508.23,242.30 L508.72,242.46 L509.20,242.63 L509.69,242.79 L510.18,242.95 L510.67,243.12 L511.15,243.28 L511.64,243.45 L512.13,243.61 L512.62,243.78 L513.10,243.94 L513.59,244.11 L514.08,244.27 L514.57,244.44 L515.05,244.61 L515.54,244.77 L516.03,244.94 L516.52,245.11 L517.00,245.28 L517.49,245.45 L517.98,245.62 L518.47,245.79 L518.95,245.96 L519.44,246.13 L519.93,246.30 L520.42,246.47 L520.90,246.64 L521.39,246.81 L521.88,246.98 L522.37,247.15 L522.85,247.33 L523.34,247.50 L523.83,247.67 L524.32,247.85 L524.80,248.02 L525.29,248.20 L525.78,248.37 L526.27,248.55 L526.75,248.72 L527.24,248.90 L527.73,249.08 L528.22,249.25 L528.70,249.43 L529.19,249.61 L529.68,249.79 L530.17,249.96 L530.65,250.14 L531.14,250.32 L531.63,250.50 L532.12,250.68 L532.60,250.86 L533.09,251.04 L533.58,251.22 L534.07,251.40 L534.55,251.59 L535.04,251.77 L535.53,251.95 L536.02,252.13 L536.50,252.32 L536.99,252.50 L537.48,252.68 L537.97,252.87 L538.45,253.05 L538.94,253.24 L539.43,253.42 L539.92,253.61 L540.40,253.80 L540.89,253.98 L541.38,254.17 L541.87,254.36 L542.35,254.55 L542.84,254.73 L543.33,254.92 L543.82,255.11 L544.30,255.30 L544.79,255.49 L545.28,255.68 L545.77,255.87 L546.25,256.06 L546.74,256.25 L547.23,256.45 L547.72,256.64 L548.20,256.83 L548.69,257.02 L549.18,257.22 L549.67,257.41 L550.15,257.60 L550.64,257.80 L551.13,257.99 L551.62,258.19 L552.10,258.38 L552.59,258.58 L553.08,258.78 L553.57,258.97 L554.05,259.17 L554.54,259.37 L555.03,259.57 L555.52,259.76 L556.00,259.96 L556.49,260.16 L556.98,260.36 L557.47,260.56 L557.95,260.76 L558.44,260.96 L558.93,261.16 L559.42,261.37 L559.90,261.57 L560.39,261.77 L560.88,261.97 L561.37,262.18 L561.85,262.38 L562.34,262.58 L562.83,262.79 L563.32,262.99 L563.80,263.20 L564.29,263.40 L564.78,263.61 L565.27,263.82 L565.75,264.02 L566.24,264.23 L566.73,264.44 L567.22,264.64 L567.70,264.85 L568.19,265.06 L568.68,265.27 L569.17,265.48 L569.65,265.69 L570.14,265.90 L570.63,266.11 L571.12,266.32 L571.60,266.53 L572.09,266.75 L572.58,266.96 L573.07,267.17 L573.55,267.38 L574.04,267.60 L574.53,267.81 L575.02,268.03 L575.50,268.24 L575.99,268.46 L576.48,268.67 L576.96,268.89 L577.45,269.10 L577.94,269.32 L578.43,269.54 L578.91,269.76 L579.40,269.97 L579.89,270.19 L580.38,270.41 L580.86,270.63 L581.35,270.85 L581.84,271.07 L582.33,271.29 L582.81,271.51 L583.30,271.73 L583.79,271.95 L584.28,272.18 L584.76,272.40 L585.25,272.62 L585.74,272.85 L586.23,273.07 L586.71,273.29 L587.20,273.52 L587.69,273.74 L588.18,273.97 L588.66,274.19 L589.15,274.42 L589.64,274.65 L590.13,274.88 L590.61,275.10 L591.10,275.33 L591.59,275.56 L592.08,275.79 L592.56,276.02 L593.05,276.25 L593.54,276.48 L594.03,276.71 L594.51,276.94 L595.00,277.17 L595.49,277.40 L595.98,277.63 L596.46,277.87 L596.95,278.10 L597.44,278.33 L597.93,278.57 L598.41,278.80 L598.90,279.04 L599.39,279.27 L599.88,279.51 L600.36,279.74 L600.85,279.98 L601.34,280.22 L601.83,280.45 L602.31,280.69 L602.80,280.93 L603.29,281.17 L603.78,281.41 L604.26,281.65 L604.75,281.89 L605.24,282.13 L605.73,282.37 L606.21,282.61 L606.70,282.85 L607.19,283.09 L607.68,283.33 L608.16,283.58 L608.65,283.82 L609.14,284.06 L609.63,284.31 L610.11,284.55 L610.60,284.80 L611.09,285.04 L611.58,285.29 L612.06,285.54 L612.55,285.78 L613.04,286.03 L613.53,286.28 L614.01,286.53 L614.50,286.77 L614.99,287.02 L615.48,287.27 L615.96,287.52 L616.45,287.77 L616.94,288.02 L617.43,288.27 L617.91,288.53 L618.40,288.78 L618.89,289.03 L619.38,289.28 L619.86,289.54 L620.35,289.79 L620.84,290.05 L621.33,290.30 L621.81,290.55 L622.30,290.81 L622.79,291.07 L623.28,291.32 L623.76,291.58 L624.25,291.84 L624.74,292.09 L625.23,292.35 L625.71,292.61 L626.20,292.87 L626.69,293.13 L627.18,293.39 L627.66,293.65 L628.15,293.91 L628.64,294.17 L629.13,294.43 L629.61,294.70 L630.10,294.96 L630.59,295.22 L631.08,295.49 L631.56,295.75 L632.05,296.01 L632.54,296.28 L633.03,296.54 L633.51,296.81 L634.00,297.08 L634.49,297.34 L634.98,297.61 L635.46,297.88 L635.95,298.15 L636.44,298.41 L636.93,298.68 L637.41,298.95 L637.90,299.22 L638.39,299.49 L638.88,299.76 L639.36,300.03 L639.85,300.31 L640.34,300.58 L640.83,300.85 L641.31,301.12 L641.80,301.40 L642.29,301.67 L642.78,301.95 L643.26,302.22 L643.75,302.50 L644.24,302.77 L644.73,303.05 L645.21,303.32 L645.70,303.60 L646.19,303.88 L646.68,304.16 L647.16,304.44 L647.65,304.72 L648.14,304.99 L648.63,305.27 L649.11,305.55 L649.60,305.84 L650.09,306.12 L650.58,306.40 L651.06,306.68 L651.55,306.96 L652.04,307.25 L652.53,307.53 L653.01,307.81 L653.50,308.10 L653.99,308.38 L654.48,308.67 L654.96,308.95 L655.45,309.24 L655.94,309.53 L656.43,309.82 L656.91,310.10 L657.40,310.39 L657.89,310.68 L658.38,310.97 L658.86,311.26 L659.35,311.55 L659.84,311.84 L660.33,312.13 L660.81,312.42 L661.30,312.71 L661.79,313.01 L662.28,313.30 L662.76,313.59 L663.25,313.89 L663.74,314.18 L664.23,314.48 L664.71,314.77 L665.20,315.07 L665.69,315.36 L666.18,315.66 L666.66,315.96 L667.15,316.25 L667.64,316.55 L668.13,316.85 L668.61,317.15 L669.10,317.45 L669.59,317.75 L670.08,318.05 L670.56,318.35 L671.05,318.65 L671.54,318.95 L672.03,319.26 L672.51,319.56 L673.00,319.86 L673.49,320.17 L673.98,320.47 L674.46,320.78 L674.95,321.08 L675.44,321.39 L675.93,321.69 L676.41,322.00 L676.90,322.31 L677.39,322.61 L677.88,322.92 L678.36,323.23 L678.85,323.54 L679.34,323.85 L679.83,324.16 L680.31,324.47 L680.80,324.78 L681.29,325.09 L681.78,325.40 L682.26,325.72 L682.75,326.03 L683.24,326.34 L683.73,326.66 L684.21,326.97 L684.70,327.29 L685.19,327.60 L685.68,327.92 L686.16,328.23 L686.65,328.55 L687.14,328.87 L687.63,329.19 L688.11,329.50 L688.60,329.82 L689.09,330.14 L689.58,330.46 L690.06,330.78 L690.55,331.10 L691.04,331.42 L691.53,331.75 L692.01,332.07 L692.50,332.39 L692.99,332.71 L693.48,333.04 L693.96,333.36 L694.45,333.69 L694.94,334.01 L695.43,334.34 L695.91,334.66 L696.40,334.99 L696.89,335.32 L697.38,335.65 L697.86,335.97 L698.35,336.30 L698.84,336.63 L699.33,336.96 L699.81,337.29 L700.30,337.62 L700.79,337.95 L701.28,338.28 L701.76,338.62 L702.25,338.95 L702.74,339.28 L703.23,339.62 L703.71,339.95 L704.20,340.29 L704.69,340.62 L705.18,340.96 L705.66,341.29 L706.15,341.63 L706.64,341.97 L707.13,342.30 L707.61,342.64 L708.10,342.98 L708.59,343.32 L709.08,343.66 L709.56,344.00 L710.05,344.34 L710.54,344.68 L711.03,345.02 L711.51,345.36 L712.00,345.71" fill="none" stroke="#0000ff" stroke-width="3.9"/>
<path d="M105.80,-5.92 L105.74,-5.09 L105.69,-4.25 L105.64,-3.41 L105.60,-2.58 L105.56,-1.74 L105.53,-0.90 L105.50,-0.06 L105.47,0.78 L105.45,1.63 L105.44,2.47 L105.43,3.31 L105.42,4.16 L105.42,5.00 L105.42,5.84 L105.43,6.69 L105.44,7.54 L105.46,8.38 L105.48,9.23 L105.51,10.07 L105.54,10.92 L105.57,11.77 L105.61,12.62 L105.65,13.46 L105.70,14.31 L105.76,15.16 L105.81,16.01 L105.88,16.86 L105.94,17.70 L106.02,18.55 L106.09,19.40 L106.17,20.25 L106.26,21.09 L106.35,21.94 L106.44,22.79 L106.54,23.63 L106.65,24.48 L106.75,25.33 L106.87,26.17 L106.98,27.02 L107.11,27.86 L107.23,28.71 L107.36,29.55 L107.50,30.39 L107.64,31.24 L107.78,32.08 L107.93,32.92 L108.09,33.76 L108.25,34.60 L108.41,35.44 L108.58,36.28 L108.75,37.12 L108.92,37.95 L109.11,38.79 L109.29,39.63 L109.48,40.46 L109.68,41.29 L109.88,42.12 L110.08,42.95 L110.29,43.78 L110.50,44.61 L110.72,45.44 L110.94,46.27 L111.17,47.09 L111.40,47.91 L111.63,48.74 L111.87,49.56 L112.12,50.38 L112.36,51.19 L112.62,52.01 L112.88,52.83 L113.14,53.64 L113.41,54.45 L113.68,55.26 L113.95,56.07 L114.23,56.88 L114.52,57.68 L114.81,58.48 L115.10,59.29 L115.40,60.09 L115.70,60.88 L116.01,61.68 L116.32,62.47 L116.64,63.26 L116.96,64.05 L117.28,64.84 L117.61,65.63 L117.95,66.41 L118.29,67.19 L118.63,67.97 L118.98,68.75 L119.33,69.52 L119.69,70.30 L120.05,71.07 L120.41,71.83 L120.78,72.60 L121.16,73.36 L121.54,74.12 L121.92,74.88 L122.31,75.63 L122.70,76.39 L123.10,77.14 L123.50,77.88 L123.91,78.63 L124.32,79.37 L124.73,80.11 L125.15,80.85 L125.57,81.58 L126.00,82.31 L126.43,83.04 L126.87,83.76 L127.31,84.48 L127.76,85.20" fill="none" stroke="#00aa00" stroke-width="4.3"/>
<path d="M127.76,85.20 L128.21,85.92 L128.66,86.63 L129.12,87.34 L129.58,88.05 L130.05,88.75 L130.53,89.45 L131.00,90.15 L131.48,90.84 L131.97,91.53 L132.46,92.22 L132.95,92.90 L133.45,93.58 L133.95,94.26 L134.46,94.93 L134.97,95.61 L135.48,96.27 L136.00,96.94 L136.52,97.60 L137.05,98.26 L137.58,98.92 L138.11,99.57 L138.65,100.22 L139.19,100.87 L139.73,101.52 L140.28,102.16 L140.83,102.80 L141.39,103.43 L141.95,104.07 L142.51,104.70 L143.08,105.33 L143.64,105.95 L144.22,106.57 L144.79,107.19 L145.37,107.81 L145.95,108.43 L146.54,109.04 L147.13,109.65 L147.72,110.25 L148.32,110.86 L148.92,111.46 L149.52,112.06 L150.12,112.65 L150.73,113.24 L151.34,113.83 L151.95,114.42 L152.57,115.01 L153.19,115.59 L153.81,116.17 L154.43,116.75 L155.06,117.32 L155.69,117.90 L156.32,118.47 L156.95,119.04 L157.59,119.60 L158.23,120.17 L158.87,120.73 L159.52,121.28 L160.16,121.84 L160.81,122.39 L161.46,122.95 L162.11,123.50 L162.77,124.04 L163.43,124.59 L164.09,125.13 L164.75,125.67 L165.41,126.21 L166.08,126.74 L166.75,127.28 L167.42,127.81 L168.09,128.34 L168.76,128.87 L169.44,129.39 L170.12,129.91 L170.79,130.44 L171.48,130.95 L172.16,131.47 L172.84,131.99 L173.53,132.50 L174.21,133.01 L174.90,133.52 L175.59,134.03 L176.28,134.53 L176.98,135.03 L177.67,135.53 L178.36,136.03 L179.06,136.53 L179.76,137.03 L180.46,137.52 L181.16,138.01 L181.86,138.50 L182.56,138.99 L183.26,139.48 L183.97,139.96 L184.67,140.44 L185.38,140.92 L186.09,141.40 L186.79,141.88 L187.50,142.36 L188.21,142.83 L188.92,143.30 L189.63,143.77 L190.34,144.24 L191.06,144.71 L191.77,145.18 L192.48,145.64 L193.20,146.11 L193.91,146.57 L194.63,147.03 L195.35,147.48 L196.07,147.94 L196.79,148.40 L197.50,148.85 L198.22,149.30 L198.95,149.75 L199.67,150.20 L200.39,150.65 L201.11,151.10 L201.84,151.54 L202.56,151.99 L203.29,152.43 L204.01,152.87 L204.74,153.31 L205.47,153.75 L206.19,154.18 L206.92,154.62 L207.65,155.05 L208.38,155.49 L209.11,155.92 L209.84,156.35 L210.58,156.78 L211.31,157.21 L212.04,157.63 L212.78,158.06 L213.51,158.48 L214.25,158.91 L214.98,159.33 L215.72,159.75 L216.46,160.17 L217.19,160.59 L217.93,161.00 L218.67,161.42 L219.41,161.84 L220.15,162.25 L220.89,162.66 L221.63,163.08 L222.38,163.49 L223.12,163.90 L223.86,164.31 L224.61,164.71 L225.35,165.12 L226.09,165.53 L226.84,165.93 L227.59,166.34 L228.33,166.74 L229.08,167.14 L229.83,167.55 L230.58,167.95 L231.32,168.35 L232.07,168.75 L232.82,169.14 L233.57,169.54 L234.32,169.94 L235.08,170.33 L235.83,170.73 L236.58,171.12 L237.33,171.52 L238.09,171.91 L238.84,172.30 L239.60,172.69 L240.35,173.08 L241.11,173.46 L241.87,173.85 L242.62,174.23 L243.38,174.62 L244.14,175.00 L244.90,175.38 L245.66,175.76 L246.42,176.14 L247.18,176.51 L247.95,176.89 L248.71,177.26 L249.47,177.63 L250.24,178.00" fill="none" stroke="#00aa00" stroke-width="4.3" stroke-dasharray="11.9 3.8" stroke-dashoffset="11.9"/>
<path d="M250.24,178.00 L251.00,178.37 L251.77,178.74 L252.54,179.10 L253.31,179.46 L254.08,179.82 L254.85,180.18 L255.62,180.54 L256.39,180.89 L257.16,181.25 L257.94,181.60 L258.71,181.95 L259.49,182.30 L260.26,182.64 L261.04,182.98 L261.82,183.32 L262.60,183.66 L263.38,184.00 L264.16,184.33 L264.94,184.66 L265.72,184.99 L266.51,185.32 L267.29,185.64 L268.08,185.96 L268.87,186.28 L269.66,186.60 L270.45,186.91 L271.24,187.22 L272.03,187.53 L272.82,187.84 L273.62,188.14 L274.41,188.44 L275.21,188.74 L276.01,189.04 L276.80,189.33 L277.60,189.63 L278.40,189.92 L279.20,190.21 L280.00,190.49 L280.80,190.78 L281.61,191.07 L282.41,191.35 L283.21,191.63 L284.01,191.91 L284.82,192.19 L285.62,192.47 L286.43,192.75 L287.23,193.02 L288.04,193.30 L288.85,193.57 L289.65,193.85 L290.46,194.12 L291.27,194.40 L292.07,194.67 L292.88,194.94 L293.69,195.21 L294.49,195.49 L295.30,195.76 L296.11,196.03 L296.91,196.30 L297.72,196.57 L298.53,196.85 L299.33,197.12 L300.14,197.39 L300.95,197.66 L301.75,197.93 L302.56,198.21 L303.37,198.48 L304.17,198.75 L304.98,199.02 L305.79,199.30 L306.59,199.57 L307.40,199.84 L308.21,200.11 L309.01,200.39 L309.82,200.66 L310.62,200.93 L311.43,201.20 L312.24,201.48 L313.04,201.75 L313.85,202.02 L314.66,202.29 L315.46,202.57 L316.27,202.84 L317.07,203.11 L317.88,203.39 L318.68,203.66 L319.49,203.93 L320.30,204.21 L321.10,204.48 L321.91,204.75 L322.71,205.03 L323.52,205.30 L324.32,205.58 L325.13,205.85 L325.93,206.12 L326.74,206.40 L327.54,206.67 L328.35,206.95 L329.15,207.22 L329.96,207.50 L330.76,207.77 L331.57,208.04 L332.37,208.32 L333.18,208.59 L333.98,208.87 L334.79,209.14 L335.59,209.42 L336.40,209.70 L337.20,209.97 L338.00,210.25 L338.81,210.52 L339.61,210.80 L340.42,211.08 L341.22,211.35 L342.02,211.63 L342.83,211.90 L343.63,212.18 L344.44,212.46 L345.24,212.73 L346.04,213.01 L346.85,213.29 L347.65,213.57 L348.45,213.84 L349.26,214.12 L350.06,214.40 L350.86,214.68 L351.67,214.96 L352.47,215.23 L353.27,215.51 L354.08,215.79 L354.88,216.07 L355.68,216.35 L356.48,216.63 L357.29,216.91 L358.09,217.19 L358.89,217.47 L359.70,217.75 L360.50,218.03 L361.30,218.31 L362.10,218.59 L362.90,218.87 L363.71,219.15 L364.51,219.43 L365.31,219.71 L366.11,219.99 L366.91,220.28 L367.72,220.56 L368.52,220.84 L369.32,221.12 L370.12,221.40 L370.92,221.69 L371.72,221.97 L372.52,222.25 L373.32,222.54 L374.13,222.82 L374.93,223.10 L375.73,223.39 L376.53,223.67 L377.33,223.96 L378.13,224.24 L378.93,224.53 L379.73,224.81 L380.53,225.10 L381.33,225.38 L382.13,225.67 L382.93,225.96 L383.73,226.24 L384.53,226.53 L385.33,226.82 L386.13,227.10 L386.93,227.39 L387.73,227.68 L388.53,227.97 L389.33,228.25 L390.13,228.54 L390.93,228.83 L391.73,229.12 L392.52,229.41 L393.32,229.70 L394.12,229.99 L394.92,230.28 L395.72,230.57 L396.52,230.86 L397.32,231.15 L398.11,231.44 L398.91,231.74 L399.71,232.03 L400.51,232.32 L401.31,232.61 L402.10,232.91 L402.90,233.20 L403.70,233.49 L404.50,233.79 L405.29,234.08 L406.09,234.37 L406.89,234.67 L407.69,234.96 L408.48,235.26 L409.28,235.55 L410.08,235.85 L410.87,236.15 L411.67,236.44 L412.47,236.74 L413.26,237.04 L414.06,237.33 L414.85,237.63 L415.65,237.93 L416.45,238.23 L417.24,238.53 L418.04,238.83 L418.83,239.13 L419.63,239.43 L420.42,239.73 L421.22,240.03 L422.01,240.33 L422.81,240.63 L423.60,240.93 L424.40,241.23 L425.19,241.54 L425.99,241.84 L426.78,242.14 L427.58,242.45 L428.37,242.75 L429.16,243.05 L429.96,243.36 L430.75,243.66 L431.55,243.97 L432.34,244.27 L433.13,244.58 L433.93,244.89 L434.72,245.19 L435.51,245.50 L436.31,245.81 L437.10,246.12 L437.89,246.43 L438.68,246.73 L439.48,247.04 L440.27,247.35 L441.06,247.66 L441.85,247.97 L442.65,248.29 L443.44,248.60 L444.23,248.91 L445.02,249.22 L445.81,249.53 L446.60,249.85 L447.40,250.16 L448.19,250.47 L448.98,250.79 L449.77,251.10 L450.56,251.42 L451.35,251.73 L452.14,252.05 L452.93,252.36 L453.72,252.68 L454.51,253.00 L455.30,253.31 L456.09,253.63 L456.88,253.95 L457.67,254.27 L458.46,254.59 L459.25,254.91 L460.03,255.23 L460.82,255.55 L461.61,255.87 L462.40,256.19 L463.19,256.51 L463.98,256.83 L464.76,257.16 L465.55,257.48 L466.34,257.80 L467.13,258.13 L467.91,258.45 L468.70,258.78 L469.49,259.10 L470.27,259.43 L471.06,259.75 L471.85,260.08 L472.63,260.41 L473.42,260.73 L474.21,261.06 L474.99,261.39 L475.78,261.72 L476.56,262.05 L477.35,262.38 L478.13,262.71 L478.92,263.04 L479.70,263.37 L480.48,263.70 L481.27,264.03 L482.05,264.36 L482.84,264.70 L483.62,265.03 L484.40,265.36 L485.19,265.70 L485.97,266.03 L486.75,266.37 L487.54,266.70 L488.32,267.04 L489.10,267.38 L489.88,267.71 L490.66,268.05 L491.44,268.39 L492.23,268.73 L493.01,269.07 L493.79,269.41 L494.57,269.75 L495.35,270.09 L496.13,270.43 L496.91,270.77 L497.69,271.11 L498.47,271.45 L499.25,271.79 L500.03,272.14 L500.81,272.48 L501.59,272.83 L502.36,273.17 L503.14,273.52 L503.92,273.86 L504.70,274.21 L505.48,274.55 L506.25,274.90 L507.03,275.25 L507.81,275.60 L508.59,275.95 L509.36,276.30 L510.14,276.64 L510.91,276.99 L511.69,277.35 L512.47,277.70 L513.24,278.05 L514.02,278.40 L514.79,278.75 L515.57,279.11 L516.34,279.46 L517.11,279.81 L517.89,280.17 L518.66,280.52 L519.43,280.88 L520.21,281.24 L520.98,281.59 L521.75,281.95 L522.53,282.31 L523.30,282.67 L524.07,283.03 L524.84,283.39 L525.61,283.75 L526.38,284.11 L527.15,284.47 L527.93,284.83 L528.70,285.19 L529.47,285.55 L530.24,285.92 L531.01,286.28 L531.77,286.64 L532.54,287.01 L533.31,287.37 L534.08,287.74 L534.85,288.11 L535.62,288.47 L536.38,288.84 L537.15,289.21 L537.92,289.58 L538.69,289.95 L539.45,290.32 L540.22,290.69 L540.98,291.06 L541.75,291.43 L542.52,291.80 L543.28,292.17 L544.05,292.54 L544.81,292.92 L545.57,293.29 L546.34,293.67 L547.10,294.04 L547.87,294.42 L548.63,294.79 L549.39,295.17 L550.15,295.55 L550.92,295.93 L551.68,296.30 L552.44,296.68 L553.20,297.06 L553.96,297.44 L554.72,297.82 L555.48,298.20 L556.24,298.59 L557.00,298.97 L557.76,299.35 L558.52,299.74 L559.28,300.12 L560.04,300.50 L560.80,300.89 L561.56,301.28 L562.31,301.66 L563.07,302.05 L563.83,302.44 L564.58,302.83 L565.34,303.21 L566.10,303.60 L566.85,303.99 L567.61,304.38 L568.36,304.78 L569.12,305.17 L569.87,305.56 L570.63,305.95 L571.38,306.35 L572.13,306.74 L572.89,307.14 L573.64,307.53 L574.39,307.93 L575.14,308.32 L575.90,308.72 L576.65,309.12 L577.40,309.52 L578.15,309.92 L578.90,310.32 L579.65,310.72 L580.40,311.12 L581.15,311.52 L581.90,311.92 L582.65,312.32 L583.39,312.73 L584.14,313.13 L584.89,313.53 L585.64,313.94 L586.38,314.35 L587.13,314.75 L587.88,315.16 L588.62,315.57 L589.37,315.98 L590.11,316.38 L590.86,316.79 L591.60,317.20 L592.35,317.61 L593.09,318.03 L593.83,318.44 L594.58,318.85 L595.32,319.26 L596.06,319.68 L596.80,320.09 L597.55,320.51 L598.29,320.92 L599.03,321.34 L599.77,321.76 L600.51,322.17 L601.25,322.59 L601.99,323.01 L602.73,323.43 L603.46,323.85 L604.20,324.27 L604.94,324.69 L605.68,325.12 L606.41,325.54 L607.15,325.96 L607.89,326.39 L608.62,326.81 L609.36,327.24 L610.09,327.66 L610.83,328.09 L611.56,328.52 L612.30,328.95 L613.03,329.38 L613.76,329.81 L614.50,330.24 L615.23,330.67 L615.96,331.10 L616.69,331.53 L617.42,331.96 L618.15,332.40 L618.88,332.83 L619.61,333.27 L620.34,333.70 L621.07,334.14 L621.80,334.57 L622.53,335.01 L623.26,335.45 L623.98,335.89 L624.71,336.33 L625.44,336.77 L626.16,337.21 L626.89,337.65 L627.61,338.09 L628.34,338.54 L629.06,338.98 L629.79,339.43 L630.51,339.87 L631.23,340.32 L631.96,340.76 L632.68,341.21 L633.40,341.66 L634.12,342.11 L634.84,342.56 L635.56,343.01 L636.28,343.46 L637.00,343.91 L637.72,344.36 L638.44,344.81 L639.16,345.27 L639.88,345.72 L640.60,346.18 L641.31,346.63 L642.03,347.09 L642.75,347.54 L643.46,348.00 L644.18,348.46 L644.89,348.92 L645.61,349.38 L646.32,349.84 L647.03,350.30 L647.75,350.76 L648.46,351.23 L649.17,351.69 L649.88,352.15 L650.60,352.62 L651.31,353.08 L652.02,353.55 L652.73,354.02 L653.44,354.49 L654.14,354.95 L654.85,355.42 L655.56,355.89 L656.27,356.36 L656.98,356.84 L657.68,357.31 L658.39,357.78 L659.09,358.26 L659.80,358.73 L660.50,359.20 L661.21,359.68 L661.91,360.16 L662.62,360.63 L663.32,361.11 L664.02,361.59 L664.72,362.07 L665.42,362.55 L666.13,363.03 L666.83,363.51 L667.53,364.00 L668.23,364.48 L668.92,364.97 L669.62,365.45 L670.32,365.94 L671.02,366.42 L671.72,366.91 L672.41,367.40 L673.11,367.89 L673.80,368.38 L674.50,368.87 L675.19,369.36 L675.89,369.85 L676.58,370.34 L677.27,370.83 L677.97,371.33 L678.66,371.82 L679.35,372.32 L680.04,372.82 L680.73,373.31 L681.42,373.81 L682.11,374.31 L682.80,374.81 L683.49,375.31 L684.18,375.81 L684.86,376.31 L685.55,376.81 L686.24,377.32 L686.92,377.82 L687.61,378.33 L688.29,378.83 L688.98,379.34 L689.66,379.85 L690.34,380.35 L691.03,380.86 L691.71,381.37 L692.39,381.88 L693.07,382.40 L693.75,382.91 L694.43,383.42 L695.11,383.93 L695.79,384.45 L696.47,384.96 L697.15,385.48 L697.82,386.00 L698.50,386.51 L699.18,387.03 L699.85,387.55 L700.53,388.07 L701.20,388.59 L701.88,389.12 L702.55,389.64 L703.22,390.16 L703.90,390.69 L704.57,391.21 L705.24,391.74 L705.91,392.26 L706.58,392.79 L707.25,393.32 L707.92,393.85 L708.59,394.38 L709.26,394.91 L709.92,395.44 L710.59,395.97 L711.26,396.51 L711.92,397.04" fill="none" stroke="#00aa00" stroke-width="4.3"/>
<path d="M116.26,-6.04 L116.21,-5.19 L116.17,-4.35 L116.13,-3.51 L116.10,-2.67 L116.07,-1.83 L116.04,-0.98 L116.02,-0.14 L116.01,0.70 L116.00,1.55 L115.99,2.39 L115.99,3.23 L115.99,4.08 L115.99,4.92 L116.01,5.77 L116.02,6.61 L116.04,7.46 L116.06,8.30 L116.09,9.14 L116.13,9.99 L116.16,10.83 L116.21,11.68 L116.25,12.52 L116.30,13.36 L116.36,14.21 L116.42,15.05 L116.48,15.89 L116.55,16.74 L116.62,17.58 L116.70,18.42 L116.78,19.26 L116.86,20.11 L116.95,20.95 L117.05,21.79 L117.14,22.63 L117.25,23.47 L117.35,24.31 L117.47,25.15 L117.58,25.98 L117.70,26.82 L117.83,27.66 L117.95,28.49 L118.09,29.33 L118.22,30.17 L118.37,31.00 L118.51,31.83 L118.66,32.67 L118.82,33.50 L118.97,34.33 L119.14,35.16 L119.30,35.99 L119.48,36.82 L119.65,37.64 L119.83,38.47 L120.02,39.30 L120.20,40.12 L120.40,40.94 L120.59,41.77 L120.80,42.59 L121.00,43.41 L121.21,44.23 L121.42,45.05 L121.64,45.86 L121.87,46.68 L122.09,47.49 L122.32,48.30 L122.56,49.12 L122.80,49.93 L123.04,50.74 L123.29,51.54 L123.54,52.35 L123.80,53.15 L124.06,53.96 L124.32,54.76 L124.59,55.56 L124.86,56.36 L125.14,57.16 L125.42,57.95 L125.70,58.74 L125.99,59.54 L126.29,60.33 L126.59,61.12 L126.89,61.90 L127.19,62.69 L127.50,63.47 L127.82,64.25 L128.14,65.03 L128.46,65.81 L128.79,66.59 L129.12,67.36 L129.45,68.14 L129.79,68.91 L130.13,69.67 L130.48,70.44 L130.83,71.20 L131.19,71.97 L131.55,72.73 L131.91,73.49 L132.28,74.24 L132.65,74.99 L133.03,75.75 L133.41,76.50 L133.79,77.24 L134.18,77.99 L134.57,78.73 L134.97,79.47 L135.37,80.21 L135.77,80.94 L136.18,81.68 L136.59,82.41 L137.01,83.13 L137.43,83.86 L137.85,84.58 L138.28,85.30 L138.71,86.02 L139.15,86.74 L139.59,87.45 L140.04,88.16 L140.48,88.87 L140.94,89.57 L141.39,90.27 L141.85,90.97 L142.32,91.67 L142.79,92.36 L143.26,93.05 L143.74,93.74 L144.22,94.42 L144.70,95.10 L145.19,95.78 L145.68,96.46 L146.18,97.13 L146.68,97.80 L147.18,98.47" fill="none" stroke="#550055" stroke-width="4.2"/>
<path d="M147.18,98.47 L147.69,99.13 L148.20,99.79 L148.72,100.45 L149.24,101.11 L149.76,101.76 L150.29,102.41 L150.82,103.05 L151.36,103.69 L151.89,104.33 L152.44,104.97 L152.98,105.61 L153.53,106.24 L154.08,106.87 L154.64,107.49 L155.20,108.11 L155.76,108.73" fill="none" stroke="#800080" stroke-width="4.2"/>
<path d="M155.76,108.73 L156.33,109.35 L156.90,109.97 L157.47,110.58 L158.04,111.19 L158.62,111.79 L159.20,112.40 L159.79,113.00 L160.38,113.60 L160.97,114.20 L161.56,114.79 L162.16,115.38 L162.75,115.97 L163.36,116.56 L163.96,117.14 L164.57,117.72 L165.18,118.30 L165.79,118.88 L166.41,119.46 L167.02,120.03 L167.64,120.60 L168.27,121.17 L168.89,121.73 L169.52,122.30 L170.15,122.86 L170.78,123.42 L171.41,123.98 L172.05,124.53 L172.69,125.08 L173.33,125.63 L173.97,126.18 L174.62,126.73 L175.26,127.28 L175.91,127.82 L176.56,128.36 L177.22,128.90 L177.87,129.44 L178.53,129.97 L179.18,130.51 L179.84,131.04 L180.50,131.57 L181.17,132.10 L181.83,132.62 L182.50,133.15 L183.16,133.67 L183.83,134.19 L184.50,134.71 L185.17,135.23 L185.85,135.75 L186.52,136.26 L187.19,136.78 L187.87,137.29 L188.55,137.80 L189.23,138.31 L189.91,138.81 L190.59,139.32 L191.27,139.82 L191.95,140.33 L192.63,140.83 L193.32,141.33 L194.00,141.83 L194.69,142.33 L195.38,142.82 L196.06,143.32 L196.75,143.81 L197.44,144.30 L198.13,144.80 L198.82,145.29 L199.51,145.77 L200.21,146.26 L200.90,146.75 L201.59,147.23 L202.29,147.71 L202.98,148.19 L203.68,148.67 L204.38,149.15 L205.08,149.63 L205.78,150.10 L206.48,150.58" fill="none" stroke="#550055" stroke-width="4.2" stroke-dasharray="11.9 3.8" stroke-dashoffset="11.9"/>
<path d="M205.30,152.32 L206.00,152.80 L206.71,153.27 L207.41,153.74 L208.12,154.21 L208.83,154.68 L209.54,155.15 L210.24,155.62 L210.95,156.09 L211.66,156.55 L212.38,157.01 L213.09,157.47 L213.80,157.93 L214.52,158.39 L215.23,158.85 L215.95,159.30 L216.66,159.76 L217.38,160.21 L218.10,160.66 L218.82,161.11 L219.54,161.55 L220.26,162.00 L220.98,162.44 L221.70,162.89 L222.43,163.33 L223.15,163.76 L223.88,164.20 L224.60,164.64 L225.33,165.07 L226.06,165.50 L226.79,165.94 L227.52,166.36 L228.25,166.79 L228.98,167.22 L229.71,167.64 L230.45,168.07 L231.18,168.49 L231.92,168.90 L232.66,169.32 L233.39,169.73 L234.13,170.15 L234.87,170.56 L235.61,170.97 L236.35,171.38 L237.10,171.78 L237.84,172.19 L238.58,172.59 L239.33,172.99 L240.08,173.39 L240.82,173.78 L241.57,174.18 L242.32,174.57 L243.07,174.96 L243.82,175.35 L244.57,175.74 L245.32,176.13 L246.08,176.51 L246.83,176.90 L247.58,177.28 L248.34,177.66 L249.10,178.03 L249.85,178.41 L250.61,178.78 L251.37,179.15 L252.13,179.52 L252.89,179.89 L253.66,180.26 L254.42,180.62 L255.18,180.99 L255.95,181.35 L256.71,181.71 L257.48,182.06 L258.24,182.42 L259.01,182.77 L259.78,183.13 L260.55,183.48 L261.32,183.83 L262.09,184.17 L262.86,184.52 L263.63,184.86 L264.41,185.21 L265.18,185.55 L265.95,185.88 L266.73,186.22 L267.51,186.56 L268.28,186.89 L269.06,187.22 L269.84,187.55 L270.62,187.88 L271.40,188.21 L272.18,188.54 L272.96,188.86 L273.74,189.18 L274.52,189.50 L275.31,189.82 L276.09,190.14 L276.87,190.46 L277.66,190.77 L278.44,191.09 L279.23,191.40 L280.01,191.72 L280.80,192.03 L281.58,192.34 L282.37,192.65 L283.15,192.95 L283.94,193.26 L284.73,193.57 L285.52,193.87 L286.30,194.18 L287.09,194.48 L287.88,194.79 L288.67,195.09 L289.45,195.39 L290.24,195.69 L291.03,195.99 L291.82,196.29 L292.61,196.59 L293.40,196.89 L294.18,197.19 L294.97,197.49 L295.76,197.79 L296.55,198.09 L297.34,198.39 L298.13,198.69 L298.91,198.99 L299.70,199.28 L300.49,199.58 L301.28,199.88 L302.07,200.18 L302.86,200.47 L303.65,200.77 L304.44,201.07 L305.22,201.36 L306.01,201.66 L306.80,201.96 L307.59,202.25 L308.38,202.55 L309.17,202.84 L309.96,203.14 L310.75,203.43 L311.54,203.73 L312.33,204.03 L313.12,204.32 L313.91,204.61 L314.70,204.91 L315.48,205.20 L316.27,205.50 L317.06,205.79 L317.85,206.09 L318.64,206.38 L319.43,206.68 L320.22,206.97 L321.01,207.26 L321.80,207.56 L322.59,207.85 L323.38,208.14 L324.17,208.44 L324.96,208.73 L325.75,209.02 L326.54,209.32 L327.33,209.61 L328.12,209.90 L328.91,210.19 L329.70,210.49 L330.49,210.78 L331.28,211.07 L332.07,211.36 L332.86,211.66 L333.65,211.95 L334.44,212.24 L335.23,212.53 L336.02,212.83 L336.81,213.12 L337.60,213.41 L338.39,213.70 L339.18,213.99 L339.97,214.29 L340.76,214.58 L341.55,214.87 L342.34,215.16 L343.13,215.45 L343.92,215.75 L344.71,216.04 L345.50,216.33 L346.29,216.62 L347.08,216.91 L347.86,217.20 L348.65,217.50 L349.44,217.79 L350.23,218.09 L351.02,218.38 L351.81,218.68 L352.59,218.98 L353.38,219.28 L354.17,219.57 L354.96,219.87 L355.74,220.17 L356.53,220.47 L357.32,220.77 L358.11,221.06 L358.89,221.36 L359.68,221.66 L360.47,221.96 L361.26,222.25 L362.04,222.55 L362.83,222.85 L363.62,223.15 L364.41,223.45 L365.19,223.74 L365.98,224.04 L366.77,224.34 L367.55,224.64 L368.34,224.94 L369.13,225.24 L369.91,225.54 L370.70,225.84 L371.49,226.13 L372.28,226.43 L373.06,226.73 L373.85,227.03 L374.64,227.33 L375.42,227.63 L376.21,227.93 L376.99,228.23 L377.78,228.53 L378.57,228.83 L379.35,229.13 L380.14,229.43 L380.93,229.73 L381.71,230.03 L382.50,230.33 L383.28,230.63 L384.07,230.93 L384.86,231.24 L385.64,231.54 L386.43,231.84 L387.21,232.14 L388.00,232.44 L388.78,232.74 L389.57,233.04 L390.36,233.34 L391.14,233.64 L391.93,233.94 L392.71,234.24 L393.50,234.54 L394.29,234.84 L395.07,235.14 L395.86,235.45 L396.64,235.75 L397.43,236.05 L398.22,236.35 L399.00,236.65 L399.79,236.95 L400.57,237.25 L401.36,237.56 L402.14,237.86 L402.93,238.16 L403.71,238.47 L404.50,238.77 L405.28,239.07 L406.07,239.38 L406.85,239.68 L407.64,239.98 L408.42,240.29 L409.21,240.59 L409.99,240.90 L410.77,241.20 L411.56,241.51 L412.34,241.81 L413.13,242.12 L413.91,242.43 L414.69,242.73 L415.48,243.04 L416.26,243.35 L417.04,243.66 L417.83,243.96 L418.61,244.27 L419.39,244.58 L420.17,244.89 L420.96,245.20 L421.74,245.51 L422.52,245.82 L423.30,246.13 L424.09,246.44 L424.87,246.75 L425.65,247.06 L426.43,247.37 L427.21,247.68 L428.00,247.99 L428.78,248.31 L429.56,248.62 L430.34,248.93 L431.12,249.25 L431.90,249.56 L432.68,249.87 L433.46,250.19 L434.24,250.50 L435.03,250.81 L435.81,251.12 L436.59,251.44 L437.37,251.75 L438.15,252.06 L438.93,252.38 L439.71,252.69 L440.49,253.00 L441.28,253.32 L442.06,253.64 L442.84,253.95 L443.62,254.27 L444.40,254.58 L445.18,254.90 L445.96,255.22 L446.74,255.54 L447.52,255.85 L448.29,256.17 L449.07,256.49 L449.85,256.81 L450.63,257.13 L451.41,257.45 L452.19,257.77 L452.97,258.09 L453.75,258.41 L454.52,258.73 L455.30,259.06 L456.08,259.38 L456.86,259.70 L457.64,260.02 L458.41,260.35 L459.19,260.67 L459.97,261.00 L460.74,261.32 L461.52,261.65 L462.30,261.97 L463.07,262.30 L463.85,262.62 L464.63,262.95 L465.40,263.28 L466.18,263.61 L466.95,263.93 L467.73,264.26 L468.50,264.59 L469.28,264.92 L470.05,265.25 L470.83,265.58 L471.60,265.91 L472.38,266.24 L473.15,266.57 L473.92,266.91 L474.70,267.24 L475.47,267.57 L476.25,267.90 L477.02,268.24 L477.79,268.57 L478.56,268.91 L479.34,269.24 L480.11,269.58 L480.88,269.91 L481.65,270.25 L482.43,270.59 L483.20,270.92 L483.97,271.26 L484.74,271.60 L485.51,271.94 L486.28,272.28 L487.05,272.62 L487.82,272.96 L488.59,273.30 L489.36,273.64 L490.13,273.98 L490.90,274.32 L491.67,274.66 L492.44,275.00 L493.21,275.35 L493.98,275.69 L494.75,276.03 L495.52,276.38 L496.28,276.72 L497.05,277.07 L497.82,277.41 L498.59,277.76 L499.36,278.11 L500.12,278.45 L500.89,278.80 L501.66,279.15 L502.42,279.50 L503.19,279.84 L503.96,280.19 L504.72,280.54 L505.49,280.89 L506.25,281.24 L507.02,281.60 L507.78,281.95 L508.55,282.30 L509.31,282.65 L510.08,283.01 L510.84,283.36 L511.60,283.71 L512.37,284.07 L513.13,284.42 L513.89,284.78 L514.66,285.13 L515.42,285.49 L516.18,285.85 L516.94,286.20 L517.71,286.56 L518.47,286.92 L519.23,287.28 L519.99,287.64 L520.75,287.99 L521.51,288.35 L522.28,288.71 L523.04,289.07 L523.80,289.43 L524.56,289.79 L525.32,290.15 L526.08,290.51 L526.84,290.87 L527.60,291.24 L528.36,291.60 L529.12,291.96 L529.87,292.33 L530.63,292.69 L531.39,293.06 L532.15,293.42 L532.91,293.79 L533.66,294.15 L534.42,294.52 L535.18,294.89 L535.94,295.26 L536.69,295.63 L537.45,295.99 L538.20,296.36 L538.96,296.73 L539.71,297.10 L540.47,297.48 L541.22,297.85 L541.98,298.22 L542.73,298.59 L543.49,298.96 L544.24,299.34 L544.99,299.71 L545.75,300.09 L546.50,300.46 L547.25,300.84 L548.01,301.21 L548.76,301.59 L549.51,301.97 L550.26,302.35 L551.01,302.72 L551.76,303.10 L552.51,303.48 L553.26,303.86 L554.01,304.24 L554.76,304.62 L555.51,305.00 L556.26,305.39 L557.01,305.77 L557.76,306.15 L558.51,306.54 L559.26,306.92 L560.00,307.30 L560.75,307.69 L561.50,308.08 L562.25,308.46 L562.99,308.85 L563.74,309.24 L564.48,309.62 L565.23,310.01 L565.98,310.40 L566.72,310.79 L567.47,311.18 L568.21,311.57 L568.95,311.96 L569.70,312.36 L570.44,312.75 L571.18,313.14 L571.93,313.53 L572.67,313.93 L573.41,314.32 L574.15,314.72 L574.90,315.11 L575.64,315.51 L576.38,315.91 L577.12,316.30 L577.86,316.70 L578.60,317.10 L579.34,317.50 L580.08,317.90 L580.82,318.30 L581.56,318.70 L582.29,319.10 L583.03,319.50 L583.77,319.91 L584.51,320.31 L585.24,320.71 L585.98,321.12 L586.72,321.52 L587.45,321.93 L588.19,322.33 L588.92,322.74 L589.66,323.15 L590.39,323.55 L591.13,323.96 L591.86,324.37 L592.60,324.78 L593.33,325.19 L594.06,325.60 L594.80,326.01 L595.53,326.42 L596.26,326.84 L596.99,327.25 L597.72,327.66 L598.45,328.08 L599.18,328.49 L599.91,328.91 L600.64,329.32 L601.37,329.74 L602.10,330.16 L602.83,330.57 L603.56,330.99 L604.29,331.41 L605.01,331.83 L605.74,332.26 L606.47,332.68 L607.19,333.10 L607.91,333.53 L608.64,333.95 L609.36,334.38 L610.09,334.81 L610.81,335.23 L611.53,335.66 L612.25,336.09 L612.98,336.52 L613.70,336.95 L614.42,337.38 L615.14,337.81 L615.86,338.24 L616.58,338.67 L617.30,339.11 L618.02,339.54 L618.74,339.97 L619.46,340.41 L620.18,340.84 L620.89,341.28 L621.61,341.71 L622.33,342.15 L623.05,342.59 L623.76,343.03 L624.48,343.47 L625.19,343.91 L625.91,344.35 L626.62,344.79 L627.34,345.23 L628.05,345.67 L628.76,346.11 L629.48,346.55 L630.19,347.00 L630.90,347.44 L631.61,347.89 L632.33,348.33 L633.04,348.78 L633.75,349.23 L634.46,349.67 L635.17,350.12 L635.88,350.57 L636.59,351.02 L637.30,351.47 L638.00,351.92 L638.71,352.37 L639.42,352.83 L640.13,353.28 L640.83,353.73 L641.54,354.19 L642.25,354.64 L642.95,355.10 L643.66,355.55 L644.36,356.01 L645.06,356.47 L645.77,356.92 L646.47,357.38 L647.17,357.84 L647.88,358.30 L648.58,358.76 L649.28,359.22 L649.99,359.68 L650.69,360.14 L651.39,360.60 L652.09,361.06 L652.80,361.52 L653.50,361.98 L654.20,362.44 L654.90,362.90 L655.60,363.37 L656.30,363.83 L657.00,364.29 L657.70,364.76 L658.40,365.23 L659.10,365.69 L659.79,366.16 L660.49,366.63 L661.19,367.10 L661.88,367.57 L662.58,368.04 L663.28,368.51 L663.97,368.98 L664.67,369.45 L665.36,369.92 L666.05,370.40 L666.75,370.87 L667.44,371.35 L668.13,371.82 L668.82,372.30 L669.51,372.77 L670.21,373.25 L670.90,373.73 L671.59,374.21 L672.28,374.69 L672.97,375.17 L673.65,375.65 L674.34,376.13 L675.03,376.62 L675.72,377.10 L676.40,377.58 L677.09,378.07 L677.78,378.55 L678.46,379.04 L679.15,379.53 L679.83,380.01 L680.52,380.50 L681.20,380.99 L681.88,381.48 L682.57,381.97 L683.25,382.46 L683.93,382.95 L684.61,383.45 L685.29,383.94 L685.97,384.43 L686.65,384.93 L687.33,385.42 L688.01,385.92 L688.69,386.42 L689.37,386.91 L690.05,387.41 L690.72,387.91 L691.40,388.41 L692.08,388.91 L692.75,389.41 L693.43,389.91 L694.10,390.42 L694.77,390.92 L695.45,391.42 L696.12,391.93 L696.79,392.43 L697.47,392.94 L698.14,393.45 L698.81,393.96 L699.48,394.46 L700.15,394.97 L700.82,395.48 L701.49,395.99 L702.16,396.51 L702.83,397.02 L703.49,397.53 L704.16,398.05 L704.82,398.56 L705.49,399.08 L706.15,399.60 L706.81,400.12 L707.48,400.64 L708.14,401.16 L708.80,401.68 L709.46,402.20 L710.12,402.73 L710.78,403.25 L713.21,400.20 L712.54,399.67 L711.88,399.15 L711.22,398.62 L710.55,398.10 L709.89,397.57 L709.22,397.05 L708.55,396.53 L707.89,396.01 L707.22,395.49 L706.55,394.97 L705.89,394.45 L705.22,393.93 L704.55,393.40 L703.88,392.88 L703.22,392.37 L702.55,391.85 L701.88,391.33 L701.21,390.81 L700.54,390.30 L699.87,389.78 L699.20,389.27 L698.53,388.75 L697.85,388.24 L697.18,387.73 L696.51,387.22 L695.84,386.71 L695.16,386.19 L694.49,385.69 L693.81,385.18 L693.14,384.67 L692.46,384.16 L691.78,383.65 L691.11,383.15 L690.43,382.64 L689.75,382.14 L689.07,381.63 L688.39,381.13 L687.72,380.63 L687.04,380.13 L686.36,379.63 L685.67,379.13 L684.99,378.63 L684.31,378.13 L683.63,377.63 L682.95,377.13 L682.26,376.64 L681.58,376.14 L680.90,375.64 L680.21,375.15 L679.53,374.66 L678.84,374.16 L678.15,373.67 L677.47,373.18 L676.78,372.69 L676.09,372.20 L675.41,371.71 L674.72,371.22 L674.03,370.73 L673.34,370.24 L672.65,369.76 L671.96,369.27 L671.27,368.78 L670.58,368.30 L669.89,367.81 L669.19,367.33 L668.50,366.85 L667.81,366.37 L667.12,365.88 L666.42,365.40 L665.73,364.92 L665.03,364.44 L664.34,363.97 L663.64,363.49 L662.95,363.01 L662.25,362.53 L661.55,362.06 L660.85,361.58 L660.16,361.11 L659.46,360.63 L658.76,360.16 L658.06,359.69 L657.36,359.22 L656.66,358.74 L655.96,358.27 L655.26,357.80 L654.56,357.33 L653.86,356.87 L653.15,356.40 L652.45,355.93 L651.75,355.46 L651.05,355.00 L650.34,354.54 L649.63,354.08 L648.92,353.62 L648.22,353.16 L647.51,352.70 L646.80,352.24 L646.09,351.78 L645.38,351.32 L644.67,350.87 L643.96,350.41 L643.25,349.96 L642.54,349.50 L641.83,349.05 L641.12,348.60 L640.41,348.14 L639.69,347.69 L638.98,347.24 L638.27,346.79 L637.55,346.34 L636.84,345.89 L636.12,345.44 L635.41,345.00 L634.69,344.55 L633.98,344.10 L633.26,343.66 L632.55,343.21 L631.83,342.77 L631.11,342.32 L630.39,341.88 L629.68,341.44 L628.96,341.00 L628.24,340.55 L627.52,340.11 L626.80,339.67 L626.08,339.23 L625.36,338.80 L624.64,338.36 L623.92,337.92 L623.19,337.48 L622.47,337.05 L621.75,336.61 L621.03,336.18 L620.30,335.74 L619.58,335.31 L618.86,334.87 L618.13,334.44 L617.41,334.01 L616.68,333.58 L615.96,333.15 L615.23,332.72 L614.51,332.29 L613.78,331.86 L613.05,331.43 L612.33,331.00 L611.60,330.58 L610.87,330.15 L610.14,329.72 L609.41,329.30 L608.68,328.87 L607.96,328.45 L607.23,328.03 L606.50,327.60 L605.77,327.18 L605.04,326.76 L604.31,326.33 L603.58,325.91 L602.85,325.49 L602.12,325.06 L601.39,324.64 L600.65,324.22 L599.92,323.80 L599.19,323.38 L598.46,322.96 L597.73,322.54 L596.99,322.13 L596.26,321.71 L595.53,321.29 L594.79,320.88 L594.06,320.46 L593.32,320.05 L592.59,319.63 L591.85,319.22 L591.12,318.80 L590.38,318.39 L589.64,317.98 L588.91,317.57 L588.17,317.16 L587.43,316.75 L586.70,316.34 L585.96,315.93 L585.22,315.52 L584.48,315.11 L583.74,314.70 L583.00,314.30 L582.26,313.89 L581.52,313.48 L580.78,313.08 L580.04,312.67 L579.30,312.27 L578.56,311.87 L577.82,311.46 L577.08,311.06 L576.33,310.66 L575.59,310.26 L574.85,309.86 L574.11,309.46 L573.36,309.06 L572.62,308.66 L571.87,308.26 L571.13,307.86 L570.38,307.46 L569.64,307.07 L568.89,306.67 L568.15,306.27 L567.40,305.88 L566.66,305.48 L565.91,305.09 L565.16,304.70 L564.42,304.30 L563.67,303.91 L562.92,303.52 L562.17,303.13 L561.42,302.74 L560.68,302.35 L559.93,301.96 L559.18,301.57 L558.43,301.18 L557.68,300.79 L556.93,300.40 L556.18,300.01 L555.43,299.63 L554.68,299.24 L553.92,298.86 L553.17,298.47 L552.42,298.09 L551.67,297.70 L550.92,297.32 L550.16,296.93 L549.41,296.55 L548.66,296.17 L547.90,295.79 L547.15,295.41 L546.40,295.03 L545.64,294.65 L544.89,294.27 L544.13,293.89 L543.38,293.51 L542.62,293.13 L541.87,292.76 L541.11,292.38 L540.35,292.00 L539.60,291.63 L538.84,291.25 L538.08,290.88 L537.33,290.50 L536.57,290.13 L535.81,289.76 L535.05,289.38 L534.29,289.01 L533.54,288.64 L532.78,288.27 L532.02,287.90 L531.26,287.53 L530.50,287.16 L529.74,286.79 L528.98,286.42 L528.22,286.05 L527.46,285.68 L526.70,285.32 L525.94,284.95 L525.18,284.58 L524.41,284.22 L523.65,283.85 L522.89,283.49 L522.13,283.12 L521.36,282.76 L520.60,282.40 L519.84,282.04 L519.07,281.68 L518.31,281.31 L517.54,280.96 L516.78,280.60 L516.02,280.24 L515.25,279.88 L514.48,279.52 L513.72,279.16 L512.95,278.81 L512.19,278.45 L511.42,278.09 L510.65,277.74 L509.89,277.38 L509.12,277.03 L508.35,276.68 L507.58,276.32 L506.82,275.97 L506.05,275.62 L505.28,275.27 L504.51,274.91 L503.74,274.56 L502.98,274.21 L502.21,273.86 L501.44,273.51 L500.67,273.16 L499.90,272.81 L499.13,272.46 L498.36,272.12 L497.59,271.77 L496.82,271.42 L496.05,271.08 L495.28,270.73 L494.50,270.38 L493.73,270.04 L492.96,269.69 L492.19,269.35 L491.42,269.01 L490.65,268.66 L489.87,268.32 L489.10,267.98 L488.33,267.63 L487.56,267.29 L486.78,266.95 L486.01,266.61 L485.24,266.27 L484.46,265.93 L483.69,265.59 L482.92,265.25 L482.14,264.91 L481.37,264.58 L480.59,264.24 L479.82,263.90 L479.04,263.56 L478.27,263.23 L477.49,262.89 L476.72,262.56 L475.94,262.22 L475.17,261.89 L474.39,261.55 L473.61,261.22 L472.84,260.89 L472.06,260.55 L471.28,260.22 L470.51,259.89 L469.73,259.56 L468.95,259.22 L468.18,258.89 L467.40,258.56 L466.62,258.23 L465.84,257.90 L465.06,257.57 L464.29,257.24 L463.51,256.92 L462.73,256.59 L461.95,256.26 L461.17,255.93 L460.39,255.61 L459.61,255.28 L458.84,254.95 L458.06,254.63 L457.28,254.30 L456.50,253.98 L455.72,253.65 L454.94,253.33 L454.16,253.01 L453.38,252.68 L452.60,252.36 L451.82,252.04 L451.03,251.72 L450.25,251.40 L449.47,251.07 L448.69,250.75 L447.91,250.43 L447.13,250.11 L446.35,249.79 L445.57,249.47 L444.78,249.16 L444.00,248.84 L443.22,248.52 L442.44,248.20 L441.66,247.88 L440.87,247.57 L440.09,247.25 L439.31,246.93 L438.52,246.62 L437.74,246.30 L436.96,245.99 L436.18,245.67 L435.39,245.36 L434.61,245.05 L433.82,244.74 L433.04,244.43 L432.25,244.12 L431.47,243.81 L430.68,243.50 L429.90,243.19 L429.11,242.88 L428.33,242.58 L427.54,242.27 L426.75,241.96 L425.97,241.66 L425.18,241.35 L424.40,241.04 L423.61,240.74 L422.82,240.43 L422.04,240.13 L421.25,239.82 L420.46,239.52 L419.68,239.22 L418.89,238.91 L418.10,238.61 L417.31,238.31 L416.53,238.00 L415.74,237.70 L414.95,237.40 L414.17,237.10 L413.38,236.80 L412.59,236.49 L411.80,236.19 L411.02,235.89 L410.23,235.59 L409.44,235.29 L408.65,234.99 L407.86,234.69 L407.08,234.39 L406.29,234.09 L405.50,233.80 L404.71,233.50 L403.92,233.20 L403.13,232.90 L402.35,232.60 L401.56,232.31 L400.77,232.01 L399.98,231.71 L399.19,231.41 L398.40,231.12 L397.61,230.82 L396.82,230.52 L396.03,230.23 L395.25,229.93 L394.46,229.64 L393.67,229.34 L392.88,229.05 L392.09,228.75 L391.30,228.46 L390.51,228.16 L389.72,227.87 L388.93,227.58 L388.14,227.29 L387.35,227.00 L386.56,226.71 L385.76,226.42 L384.97,226.13 L384.18,225.84 L383.39,225.55 L382.60,225.26 L381.81,224.97 L381.02,224.68 L380.23,224.39 L379.44,224.10 L378.64,223.81 L377.85,223.52 L377.06,223.23 L376.27,222.94 L375.48,222.66 L374.69,222.37 L373.90,222.08 L373.10,221.79 L372.31,221.50 L371.52,221.21 L370.73,220.93 L369.94,220.64 L369.15,220.35 L368.36,220.06 L367.56,219.78 L366.77,219.49 L365.98,219.20 L365.19,218.91 L364.40,218.63 L363.60,218.34 L362.81,218.05 L362.02,217.77 L361.23,217.48 L360.44,217.19 L359.65,216.91 L358.85,216.62 L358.06,216.33 L357.27,216.05 L356.48,215.76 L355.69,215.47 L354.89,215.19 L354.10,214.90 L353.31,214.61 L352.52,214.33 L351.73,214.04 L350.94,213.75 L350.15,213.46 L349.36,213.17 L348.57,212.88 L347.78,212.59 L346.99,212.30 L346.20,212.00 L345.41,211.71 L344.62,211.42 L343.83,211.13 L343.04,210.84 L342.25,210.54 L341.46,210.25 L340.67,209.96 L339.88,209.67 L339.09,209.38 L338.30,209.08 L337.51,208.79 L336.72,208.50 L335.93,208.21 L335.14,207.92 L334.35,207.62 L333.56,207.33 L332.77,207.04 L331.98,206.75 L331.19,206.45 L330.40,206.16 L329.61,205.87 L328.82,205.58 L328.03,205.28 L327.25,204.99 L326.46,204.70 L325.67,204.41 L324.88,204.11 L324.09,203.82 L323.30,203.53 L322.51,203.23 L321.72,202.94 L320.93,202.65 L320.14,202.35 L319.35,202.06 L318.57,201.76 L317.78,201.47 L316.99,201.18 L316.20,200.88 L315.41,200.59 L314.62,200.29 L313.83,200.00 L313.04,199.70 L312.26,199.41 L311.47,199.11 L310.68,198.82 L309.89,198.52 L309.10,198.23 L308.31,197.93 L307.53,197.63 L306.74,197.34 L305.95,197.04 L305.16,196.75 L304.37,196.45 L303.59,196.15 L302.80,195.86 L302.01,195.56 L301.22,195.26 L300.43,194.96 L299.65,194.67 L298.86,194.37 L298.07,194.07 L297.29,193.77 L296.50,193.47 L295.71,193.17 L294.92,192.87 L294.14,192.58 L293.35,192.28 L292.56,191.98 L291.78,191.68 L290.99,191.37 L290.21,191.07 L289.42,190.77 L288.64,190.47 L287.85,190.17 L287.07,189.86 L286.29,189.56 L285.50,189.25 L284.72,188.95 L283.94,188.64 L283.16,188.34 L282.38,188.03 L281.60,187.72 L280.82,187.41 L280.04,187.10 L279.26,186.79 L278.48,186.47 L277.70,186.16 L276.93,185.84 L276.15,185.52 L275.38,185.21 L274.60,184.89 L273.83,184.57 L273.06,184.24 L272.29,183.92 L271.52,183.59 L270.75,183.27 L269.98,182.94 L269.21,182.61 L268.44,182.28 L267.67,181.94 L266.91,181.61 L266.14,181.27 L265.38,180.93 L264.61,180.59 L263.85,180.25 L263.09,179.91 L262.33,179.56 L261.57,179.22 L260.81,178.87 L260.05,178.52 L259.29,178.17 L258.53,177.81 L257.78,177.46 L257.02,177.10 L256.27,176.74 L255.51,176.38 L254.76,176.02 L254.01,175.65 L253.26,175.29 L252.51,174.92 L251.76,174.55 L251.01,174.18 L250.26,173.81 L249.52,173.43 L248.77,173.06 L248.03,172.68 L247.28,172.30 L246.54,171.92 L245.80,171.54 L245.06,171.15 L244.31,170.76 L243.58,170.38 L242.84,169.98 L242.10,169.59 L241.36,169.20 L240.63,168.80 L239.89,168.41 L239.16,168.01 L238.42,167.60 L237.69,167.20 L236.96,166.80 L236.23,166.39 L235.50,165.98 L234.77,165.57 L234.04,165.16 L233.31,164.75 L232.58,164.33 L231.86,163.92 L231.13,163.50 L230.41,163.08 L229.68,162.66 L228.96,162.24 L228.24,161.82 L227.52,161.39 L226.79,160.97 L226.07,160.54 L225.36,160.11 L224.64,159.67 L223.92,159.24 L223.20,158.81 L222.49,158.37 L221.77,157.93 L221.06,157.49 L220.35,157.05 L219.63,156.61 L218.92,156.16 L218.21,155.72 L217.50,155.27 L216.79,154.82 L216.09,154.37 L215.38,153.91 L214.67,153.46 L213.97,153.01 L213.26,152.55 L212.56,152.09 L211.85,151.63 L211.15,151.17 L210.45,150.70 L209.75,150.24 L209.05,149.77 L208.35,149.31 L207.65,148.84Z" fill="#550055" stroke="none"/>
</g>
<rect x="39.5" y="0.5" width="663.1" height="409.5" fill="none" stroke="#606060" stroke-width="1" opacity="0.6"/>
<g stroke="#4e4e4e" stroke-width="1" fill="none" opacity="0.45"><line x1="52.40" y1="410.0" x2="52.40" y2="402.1"/><line x1="52.40" y1="0.5" x2="52.40" y2="8.4"/><line x1="77.86" y1="410.0" x2="77.86" y2="405.6"/><line x1="77.86" y1="0.5" x2="77.86" y2="4.9"/><line x1="103.33" y1="410.0" x2="103.33" y2="405.6"/><line x1="103.33" y1="0.5" x2="103.33" y2="4.9"/><line x1="128.79" y1="410.0" x2="128.79" y2="405.6"/><line x1="128.79" y1="0.5" x2="128.79" y2="4.9"/><line x1="154.26" y1="410.0" x2="154.26" y2="405.6"/><line x1="154.26" y1="0.5" x2="154.26" y2="4.9"/><line x1="179.72" y1="410.0" x2="179.72" y2="402.1"/><line x1="179.72" y1="0.5" x2="179.72" y2="8.4"/><line x1="205.18" y1="410.0" x2="205.18" y2="405.6"/><line x1="205.18" y1="0.5" x2="205.18" y2="4.9"/><line x1="230.65" y1="410.0" x2="230.65" y2="405.6"/><line x1="230.65" y1="0.5" x2="230.65" y2="4.9"/><line x1="256.11" y1="410.0" x2="256.11" y2="405.6"/><line x1="256.11" y1="0.5" x2="256.11" y2="4.9"/><line x1="281.58" y1="410.0" x2="281.58" y2="405.6"/><line x1="281.58" y1="0.5" x2="281.58" y2="4.9"/><line x1="307.04" y1="410.0" x2="307.04" y2="402.1"/><line x1="307.04" y1="0.5" x2="307.04" y2="8.4"/><line x1="332.50" y1="410.0" x2="332.50" y2="405.6"/><line x1="332.50" y1="0.5" x2="332.50" y2="4.9"/><line x1="357.97" y1="410.0" x2="357.97" y2="405.6"/><line x1="357.97" y1="0.5" x2="357.97" y2="4.9"/><line x1="383.43" y1="410.0" x2="383.43" y2="405.6"/><line x1="383.43" y1="0.5" x2="383.43" y2="4.9"/><line x1="408.90" y1="410.0" x2="408.90" y2="405.6"/><line x1="408.90" y1="0.5" x2="408.90" y2="4.9"/><line x1="434.36" y1="410.0" x2="434.36" y2="402.1"/><line x1="434.36" y1="0.5" x2="434.36" y2="8.4"/><line x1="459.82" y1="410.0" x2="459.82" y2="405.6"/><line x1="459.82" y1="0.5" x2="459.82" y2="4.9"/><line x1="485.29" y1="410.0" x2="485.29" y2="405.6"/><line x1="485.29" y1="0.5" x2="485.29" y2="4.9"/><line x1="510.75" y1="410.0" x2="510.75" y2="405.6"/><line x1="510.75" y1="0.5" x2="510.75" y2="4.9"/><line x1="536.22" y1="410.0" x2="536.22" y2="405.6"/><line x1="536.22" y1="0.5" x2="536.22" y2="4.9"/><line x1="561.68" y1="410.0" x2="561.68" y2="402.1"/><line x1="561.68" y1="0.5" x2="561.68" y2="8.4"/><line x1="587.14" y1="410.0" x2="587.14" y2="405.6"/><line x1="587.14" y1="0.5" x2="587.14" y2="4.9"/><line x1="612.61" y1="410.0" x2="612.61" y2="405.6"/><line x1="612.61" y1="0.5" x2="612.61" y2="4.9"/><line x1="638.07" y1="410.0" x2="638.07" y2="405.6"/><line x1="638.07" y1="0.5" x2="638.07" y2="4.9"/><line x1="663.54" y1="410.0" x2="663.54" y2="405.6"/><line x1="663.54" y1="0.5" x2="663.54" y2="4.9"/><line x1="689.00" y1="410.0" x2="689.00" y2="402.1"/><line x1="689.00" y1="0.5" x2="689.00" y2="8.4"/><line x1="39.5" y1="404.52" x2="43.9" y2="404.52"/><line x1="702.6" y1="404.52" x2="698.2" y2="404.52"/><line x1="39.5" y1="389.64" x2="43.9" y2="389.64"/><line x1="702.6" y1="389.64" x2="698.2" y2="389.64"/><line x1="39.5" y1="374.76" x2="47.0" y2="374.76"/><line x1="702.6" y1="374.76" x2="695.1" y2="374.76"/><line x1="39.5" y1="359.88" x2="43.9" y2="359.88"/><line x1="702.6" y1="359.88" x2="698.2" y2="359.88"/><line x1="39.5" y1="345.00" x2="43.9" y2="345.00"/><line x1="702.6" y1="345.00" x2="698.2" y2="345.00"/><line x1="39.5" y1="330.12" x2="43.9" y2="330.12"/><line x1="702.6" y1="330.12" x2="698.2" y2="330.12"/><line x1="39.5" y1="315.24" x2="47.0" y2="315.24"/><line x1="702.6" y1="315.24" x2="695.1" y2="315.24"/><line x1="39.5" y1="300.36" x2="43.9" y2="300.36"/><line x1="702.6" y1="300.36" x2="698.2" y2="300.36"/><line x1="39.5" y1="285.48" x2="43.9" y2="285.48"/><line x1="702.6" y1="285.48" x2="698.2" y2="285.48"/><line x1="39.5" y1="270.60" x2="43.9" y2="270.60"/><line x1="702.6" y1="270.60" x2="698.2" y2="270.60"/><line x1="39.5" y1="255.72" x2="47.0" y2="255.72"/><line x1="702.6" y1="255.72" x2="695.1" y2="255.72"/><line x1="39.5" y1="240.84" x2="43.9" y2="240.84"/><line x1="702.6" y1="240.84" x2="698.2" y2="240.84"/><line x1="39.5" y1="225.96" x2="43.9" y2="225.96"/><line x1="702.6" y1="225.96" x2="698.2" y2="225.96"/><line x1="39.5" y1="211.08" x2="43.9" y2="211.08"/><line x1="702.6" y1="211.08" x2="698.2" y2="211.08"/><line x1="39.5" y1="196.20" x2="47.0" y2="196.20"/><line x1="702.6" y1="196.20" x2="695.1" y2="196.20"/><line x1="39.5" y1="181.32" x2="43.9" y2="181.32"/><line x1="702.6" y1="181.32" x2="698.2" y2="181.32"/><line x1="39.5" y1="166.44" x2="43.9" y2="166.44"/><line x1="702.6" y1="166.44" x2="698.2" y2="166.44"/><line x1="39.5" y1="151.56" x2="43.9" y2="151.56"/><line x1="702.6" y1="151.56" x2="698.2" y2="151.56"/><line x1="39.5" y1="136.68" x2="47.0" y2="136.68"/><line x1="702.6" y1="136.68" x2="695.1" y2="136.68"/><line x1="39.5" y1="121.80" x2="43.9" y2="121.80"/><line x1="702.6" y1="121.80" x2="698.2" y2="121.80"/><line x1="39.5" y1="106.92" x2="43.9" y2="106.92"/><line x1="702.6" y1="106.92" x2="698.2" y2="106.92"/><line x1="39.5" y1="92.04" x2="43.9" y2="92.04"/><line x1="702.6" y1="92.04" x2="698.2" y2="92.04"/><line x1="39.5" y1="77.16" x2="47.0" y2="77.16"/><line x1="702.6" y1="77.16" x2="695.1" y2="77.16"/><line x1="39.5" y1="62.28" x2="43.9" y2="62.28"/><line x1="702.6" y1="62.28" x2="698.2" y2="62.28"/><line x1="39.5" y1="47.40" x2="43.9" y2="47.40"/><line x1="702.6" y1="47.40" x2="698.2" y2="47.40"/><line x1="39.5" y1="32.52" x2="43.9" y2="32.52"/><line x1="702.6" y1="32.52" x2="698.2" y2="32.52"/><line x1="39.5" y1="17.64" x2="47.0" y2="17.64"/><line x1="702.6" y1="17.64" x2="695.1" y2="17.64"/><line x1="39.5" y1="2.76" x2="43.9" y2="2.76"/><line x1="702.6" y1="2.76" x2="698.2" y2="2.76"/></g>
<g font-family="Liberation Serif, serif" font-size="28.8px" fill="#000" style="will-change:transform"><text x="52.40" y="438.8" text-anchor="middle">0.5</text><text x="179.72" y="438.8" text-anchor="middle">0.6</text><text x="307.04" y="438.8" text-anchor="middle">0.7</text><text x="434.36" y="438.8" text-anchor="middle">0.8</text><text x="561.68" y="438.8" text-anchor="middle">0.9</text><text x="689.00" y="438.8" text-anchor="middle">1.0</text><text x="33.5" y="24.99" text-anchor="end">6</text><text x="33.5" y="84.51" text-anchor="end">4</text><text x="33.5" y="144.03" text-anchor="end">2</text><text x="33.5" y="203.55" text-anchor="end">0</text><text><tspan x="0.3" y="265.52" text-anchor="start" font-size="30.2px">−</tspan><tspan x="33.5" y="263.07" text-anchor="end">2</tspan></text><text><tspan x="0.3" y="325.04" text-anchor="start" font-size="30.2px">−</tspan><tspan x="33.5" y="322.59" text-anchor="end">4</tspan></text><text><tspan x="0.3" y="384.56" text-anchor="start" font-size="30.2px">−</tspan><tspan x="33.5" y="382.11" text-anchor="end">6</tspan></text></g>
</svg>
</body></html>
